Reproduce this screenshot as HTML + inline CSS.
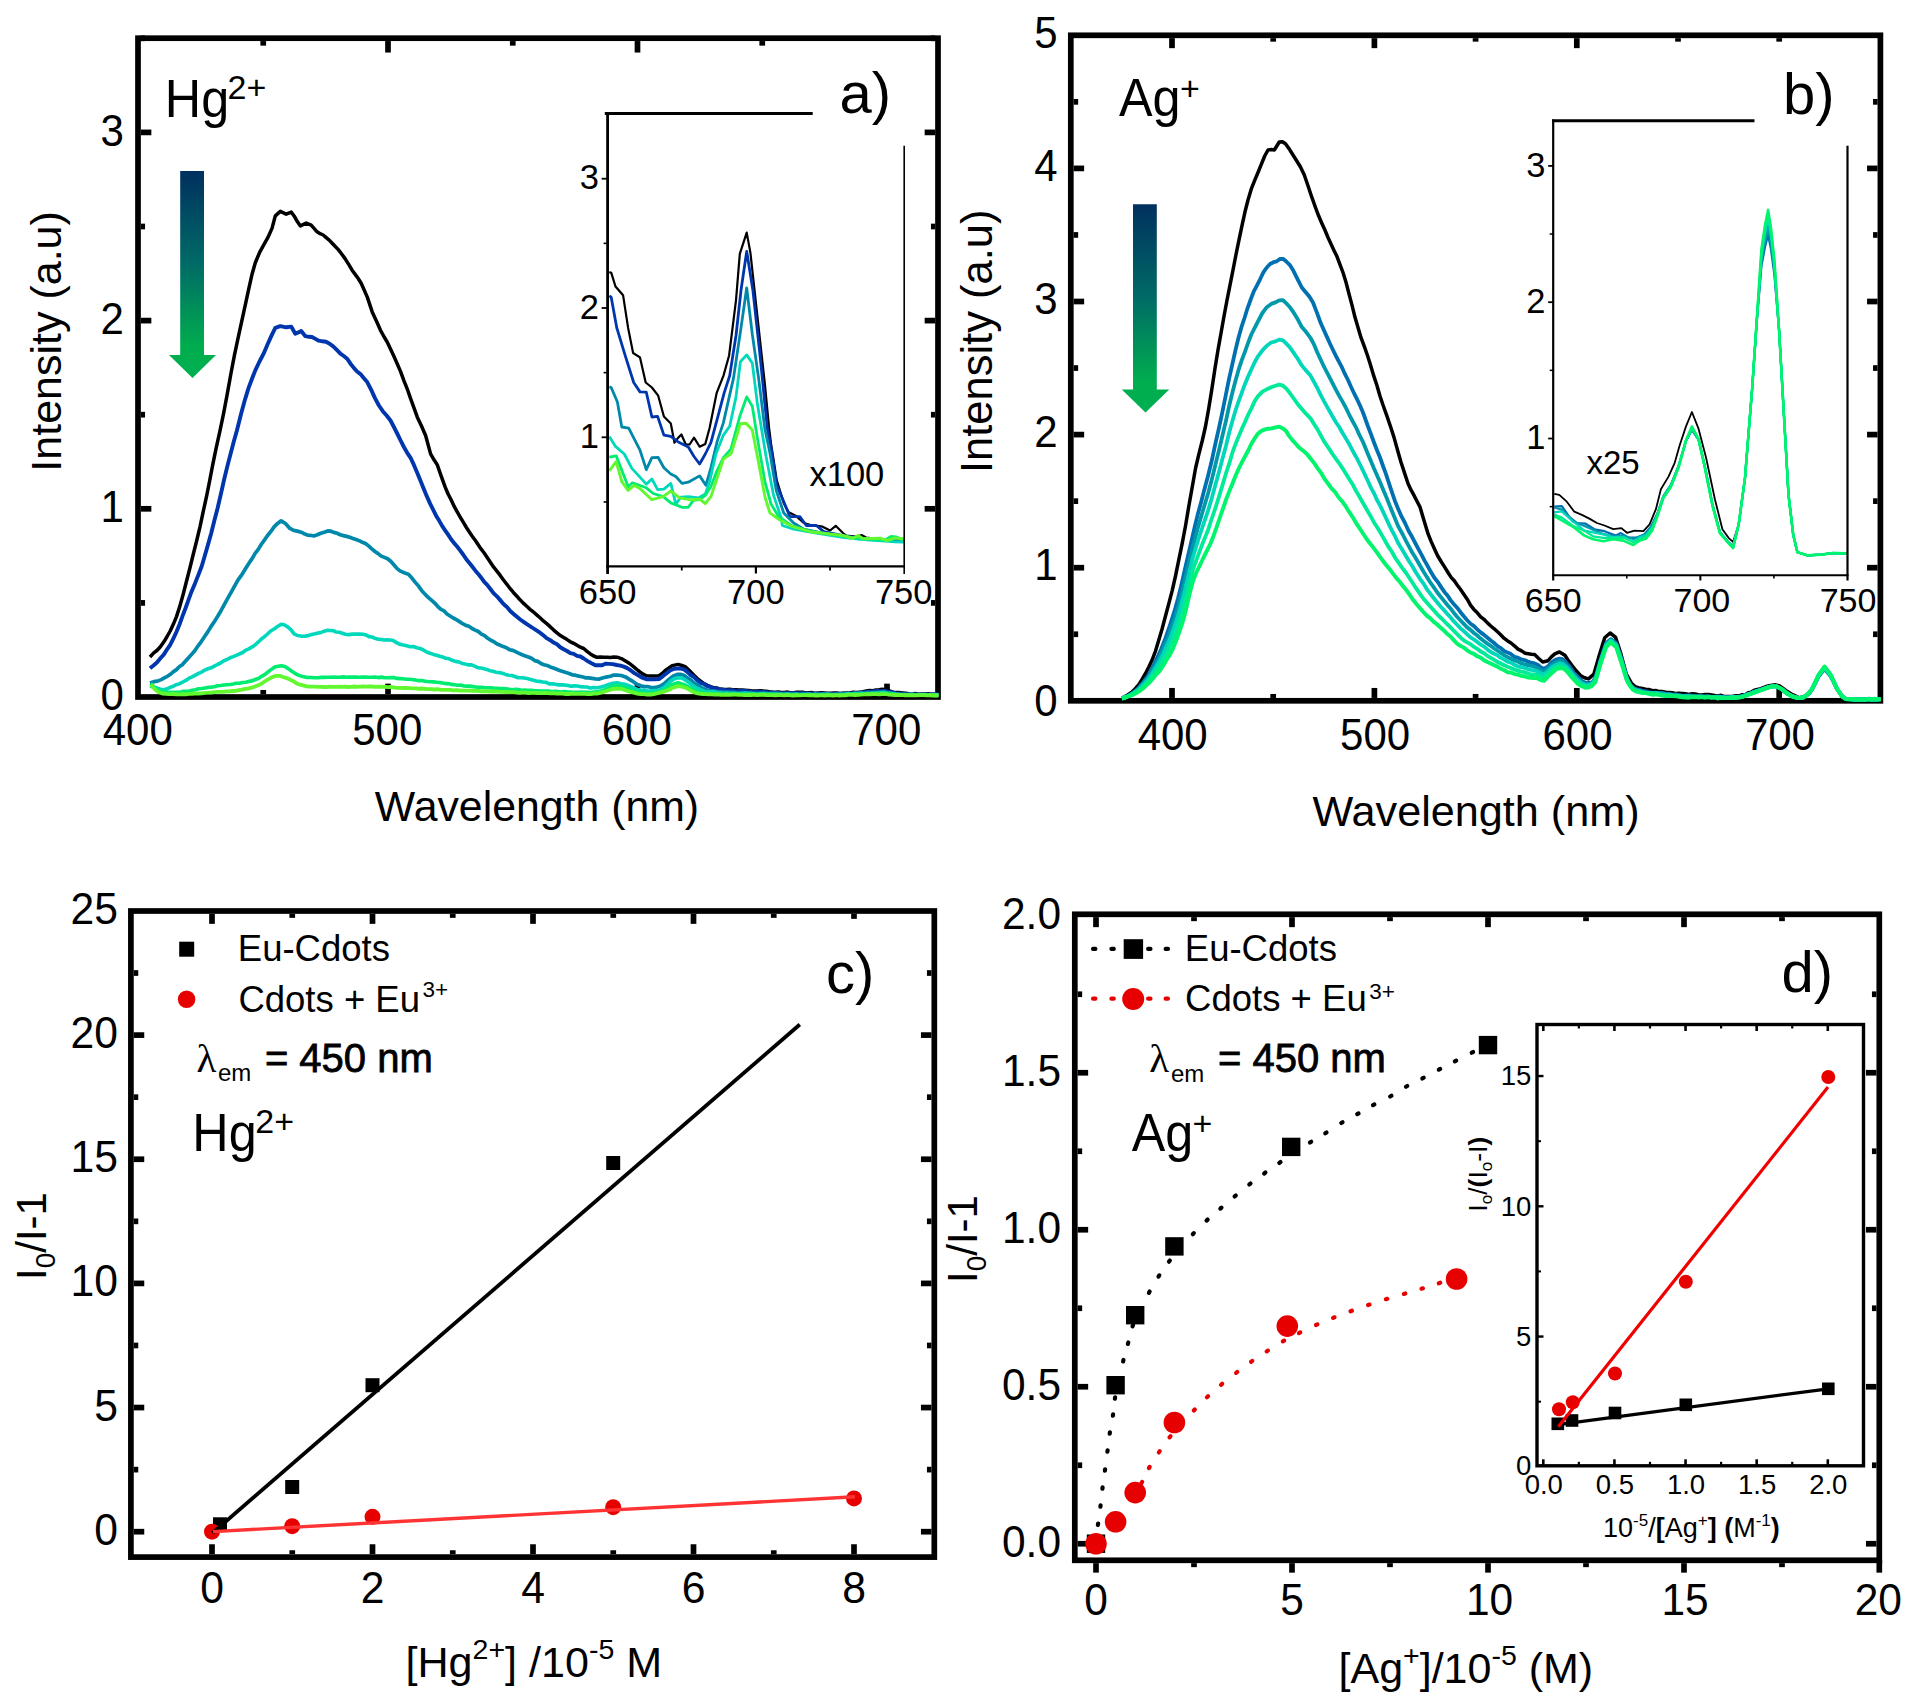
<!DOCTYPE html>
<html lang="en"><head><meta charset="utf-8"><title>Figure</title>
<style>html,body{margin:0;padding:0;background:#fff}svg{display:block}</style></head>
<body>
<svg width="1916" height="1706" viewBox="0 0 1916 1706" font-family='"Liberation Sans", sans-serif'>
<defs><linearGradient id="ag" x1="0" y1="0" x2="0" y2="1"><stop offset="0" stop-color="#00305f"/><stop offset="0.45" stop-color="#006b66"/><stop offset="0.85" stop-color="#00ad4e"/><stop offset="1" stop-color="#00b050"/></linearGradient></defs>
<rect width="1916" height="1706" fill="#fff"/>
<g id="panelA">
<line x1="388.00" y1="694.15" x2="388.00" y2="683.65" stroke="#000" stroke-width="5.7" />
<line x1="637.50" y1="694.15" x2="637.50" y2="683.65" stroke="#000" stroke-width="5.7" />
<line x1="887.00" y1="694.15" x2="887.00" y2="683.65" stroke="#000" stroke-width="5.7" />
<line x1="263.25" y1="694.15" x2="263.25" y2="689.95" stroke="#000" stroke-width="5.7" />
<line x1="512.75" y1="694.15" x2="512.75" y2="689.95" stroke="#000" stroke-width="5.7" />
<line x1="762.25" y1="694.15" x2="762.25" y2="689.95" stroke="#000" stroke-width="5.7" />
<line x1="388.00" y1="41.05" x2="388.00" y2="52.55" stroke="#000" stroke-width="5.7" />
<line x1="637.50" y1="41.05" x2="637.50" y2="52.55" stroke="#000" stroke-width="5.7" />
<line x1="263.25" y1="41.05" x2="263.25" y2="45.65" stroke="#000" stroke-width="5.7" />
<line x1="512.75" y1="41.05" x2="512.75" y2="45.65" stroke="#000" stroke-width="5.7" />
<line x1="762.25" y1="41.05" x2="762.25" y2="45.65" stroke="#000" stroke-width="5.7" />
<line x1="140.85" y1="508.80" x2="151.35" y2="508.80" stroke="#000" stroke-width="5.7" />
<line x1="140.85" y1="320.60" x2="151.35" y2="320.60" stroke="#000" stroke-width="5.7" />
<line x1="140.85" y1="132.40" x2="151.35" y2="132.40" stroke="#000" stroke-width="5.7" />
<line x1="140.85" y1="602.90" x2="145.05" y2="602.90" stroke="#000" stroke-width="5.7" />
<line x1="140.85" y1="414.70" x2="145.05" y2="414.70" stroke="#000" stroke-width="5.7" />
<line x1="140.85" y1="226.50" x2="145.05" y2="226.50" stroke="#000" stroke-width="5.7" />
<line x1="140.85" y1="38.30" x2="145.05" y2="38.30" stroke="#000" stroke-width="5.7" />
<line x1="935.15" y1="508.80" x2="924.65" y2="508.80" stroke="#000" stroke-width="5.7" />
<line x1="935.15" y1="320.60" x2="924.65" y2="320.60" stroke="#000" stroke-width="5.7" />
<line x1="935.15" y1="132.40" x2="924.65" y2="132.40" stroke="#000" stroke-width="5.7" />
<line x1="935.15" y1="602.90" x2="930.95" y2="602.90" stroke="#000" stroke-width="5.7" />
<line x1="935.15" y1="414.70" x2="930.95" y2="414.70" stroke="#000" stroke-width="5.7" />
<line x1="935.15" y1="226.50" x2="930.95" y2="226.50" stroke="#000" stroke-width="5.7" />
<line x1="935.15" y1="38.30" x2="930.95" y2="38.30" stroke="#000" stroke-width="5.7" />
<rect x="138.00" y="38.20" width="800.00" height="658.80" fill="none" stroke="#000" stroke-width="5.7"/>
<polyline points="150.0,657.0 153.5,653.1 156.9,650.5 160.4,646.7 163.9,641.8 167.1,636.5 170.2,631.0 173.3,624.3 176.5,616.6 179.8,606.4 183.2,594.3 186.5,581.3 189.9,568.0 193.2,554.5 196.6,541.0 200.0,526.8 203.3,511.2 206.7,495.6 209.7,480.6 212.7,464.9 216.3,447.4 219.9,431.2 223.5,413.8 227.1,394.8 230.8,374.3 234.4,355.4 238.0,338.4 241.6,321.8 245.2,305.3 248.6,289.6 251.9,274.8 255.3,262.7 259.5,252.7 263.6,245.1 267.8,237.7 272.0,228.4 275.3,215.9 280.3,211.4 286.2,214.2 291.2,212.1 294.3,216.2 297.3,221.6 300.4,225.9 306.2,223.1 311.2,225.1 317.1,231.8 320.1,233.7 323.2,235.0 326.2,237.6 329.2,240.1 332.2,243.3 335.3,246.5 338.3,249.6 341.3,253.5 344.9,258.4 348.5,264.2 352.1,270.2 355.2,274.4 358.2,278.5 361.3,283.5 367.2,296.9 372.2,311.9 376.4,321.1 380.5,330.3 383.9,336.5 387.2,342.0 390.5,348.9 393.9,356.2 397.2,363.7 400.5,371.4 403.9,380.6 407.2,388.8 410.6,398.6 413.9,407.7 417.3,417.2 421.5,426.0 425.6,435.5 430.6,453.9 434.0,459.8 437.3,464.9 441.2,476.1 445.1,486.9 448.1,494.0 451.1,499.8 454.1,506.2 457.1,511.7 460.1,517.0 463.1,521.9 466.1,527.0 469.2,531.8 472.2,536.2 475.2,540.3 478.2,544.8 481.2,549.2 484.2,553.0 487.2,557.5 490.2,562.0 493.5,566.9 496.9,571.1 500.2,575.4 503.5,580.0 506.9,584.3 510.2,588.7 513.6,592.7 516.9,596.3 520.3,600.1 523.6,603.4 527.0,606.5 530.3,609.6 533.7,612.2 537.0,615.1 540.3,618.0 543.7,621.2 547.0,623.9 550.4,626.9 553.7,630.1 557.0,632.9 560.4,635.6 563.7,637.6 567.1,639.6 570.4,641.8 573.7,643.3 577.0,645.2 580.4,647.2 583.7,648.5 587.0,651.3 590.4,653.9 593.7,656.0 597.1,657.3 600.4,656.9 603.8,657.2 607.1,657.2 610.5,657.4 613.8,657.0 617.1,657.2 621.3,658.6 625.5,661.0 629.6,663.5 633.8,666.9 638.0,670.5 642.2,673.6 646.4,675.7 650.5,676.1 654.7,675.9 658.9,675.7 662.2,673.5 665.6,670.2 668.9,668.0 672.2,665.6 678.1,664.4 681.9,665.5 685.6,666.9 689.8,671.1 693.9,675.2 697.3,678.6 700.6,681.2 704.0,683.6 707.3,685.4 710.7,686.6 714.0,687.8 717.0,688.1 720.0,688.9 723.2,689.5 726.3,689.4 729.5,689.2 732.7,689.7 735.8,689.8 739.0,690.0 742.0,690.0 745.0,690.2 748.1,690.5 751.1,690.8 754.1,690.9 757.1,691.0 760.2,690.7 763.2,691.1 766.2,691.2 769.2,691.7 772.3,692.1 775.3,692.2 778.3,692.0 781.4,692.4 784.4,692.5 787.5,692.1 790.6,692.8 793.7,692.7 796.7,692.2 799.8,692.2 802.9,692.3 805.9,693.1 809.0,692.7 812.1,692.6 815.1,693.2 818.2,693.0 821.3,692.8 824.4,692.9 827.4,693.3 830.5,693.3 833.8,693.0 837.0,693.1 840.3,693.5 843.5,693.2 846.8,692.9 850.1,693.0 853.3,692.3 856.6,692.6 859.9,692.2 863.1,691.8 866.4,691.0 869.6,690.5 872.9,690.8 876.1,690.0 879.2,689.7 882.2,689.3 885.3,689.8 888.8,690.7 892.2,692.0 895.7,692.6 899.0,692.6 902.2,692.9 905.5,693.2 908.8,693.7 912.1,694.0 915.4,693.6 918.7,694.2 922.0,694.2 925.3,694.1 928.6,693.8 931.9,694.6 935.2,694.4 938.5,694.2" fill="none" stroke="#000000" stroke-width="3.5" stroke-linejoin="round" stroke-linecap="butt"/>
<polyline points="150.0,668.3 153.5,665.5 156.9,662.5 160.4,658.2 163.9,654.4 167.1,649.3 170.2,644.8 173.3,638.7 176.5,631.7 179.5,624.5 182.5,616.1 185.6,608.0 188.6,599.6 191.6,591.4 195.0,583.4 198.3,575.1 201.7,566.2 204.8,555.8 208.0,544.6 211.2,533.2 214.3,520.8 217.7,507.7 221.0,493.5 224.3,478.8 227.7,464.9 230.8,453.1 233.8,441.6 236.9,430.5 241.1,413.7 245.2,398.8 248.6,387.9 251.9,379.0 255.3,370.4 259.5,361.5 263.6,353.7 267.5,344.6 271.4,335.9 275.3,327.8 280.3,326.1 286.2,327.3 291.2,326.6 295.3,333.7 301.2,331.1 305.4,336.2 308.7,336.8 312.0,337.0 315.4,338.9 318.7,340.7 322.3,341.3 326.0,341.8 329.6,343.7 333.2,346.4 336.8,349.9 340.4,353.7 343.8,356.0 347.1,358.7 350.5,363.7 353.8,367.9 357.1,371.5 360.5,374.1 363.9,378.2 367.2,382.1 371.1,389.6 375.0,398.1 378.9,405.5 382.8,411.2 386.6,415.5 390.5,420.5 393.9,427.0 397.2,433.5 400.6,440.5 403.9,447.0 407.2,452.8 410.6,457.9 413.9,464.9 417.1,472.5 420.4,480.5 423.6,488.4 426.9,496.4 430.1,503.6 433.1,509.6 436.1,515.7 439.1,520.6 442.1,525.9 445.1,530.3 448.1,534.6 451.1,539.2 454.1,543.1 457.1,546.5 460.1,550.4 463.1,554.5 466.1,558.9 469.2,562.7 472.2,566.5 475.2,570.4 478.2,573.9 481.2,577.7 484.2,581.8 487.2,584.9 490.2,588.8 493.5,593.1 496.9,596.3 500.2,600.1 503.5,604.0 506.9,606.9 510.2,611.0 513.6,614.0 516.9,616.8 520.2,619.5 523.6,621.9 526.9,624.2 530.3,626.3 533.6,628.5 536.9,630.7 540.3,632.9 543.6,635.6 547.0,638.4 550.3,640.2 553.6,642.6 557.0,644.3 560.3,647.3 563.7,649.3 567.0,651.0 570.3,653.1 573.7,653.8 577.0,655.8 580.4,656.5 583.7,658.5 587.6,661.1 591.5,663.3 595.4,665.2 598.8,665.1 602.1,665.3 605.4,663.8 608.8,663.9 612.7,664.1 616.6,665.0 620.5,665.6 623.8,666.6 627.2,668.1 630.5,670.2 634.4,673.1 638.3,675.4 642.2,677.7 646.4,679.2 650.5,679.4 654.7,679.3 658.9,679.1 663.0,676.1 667.2,672.7 670.5,670.2 673.9,668.9 677.2,668.5 680.6,668.6 684.0,669.4 687.3,671.9 690.6,675.0 694.0,677.1 697.3,680.3 700.6,682.8 704.0,684.0 707.3,686.1 710.5,687.0 713.6,688.5 716.8,688.5 720.0,689.4 723.2,689.5 726.3,690.4 729.5,690.3 732.7,690.2 735.8,691.3 739.0,691.0 742.0,690.8 745.0,690.9 748.1,691.3 751.1,691.8 754.1,692.1 757.1,691.6 760.2,691.9 763.2,691.8 766.2,692.3 769.2,692.7 772.3,692.8 775.3,693.1 778.3,692.8 781.4,693.2 784.4,693.4 787.5,693.3 790.6,693.2 793.7,693.0 796.7,693.5 799.8,693.3 802.9,693.1 805.9,693.5 809.0,694.0 812.1,693.4 815.1,693.9 818.2,693.7 821.3,693.9 824.4,693.6 827.4,694.4 830.5,694.0 833.8,693.8 837.0,694.1 840.3,693.9 843.5,693.5 846.8,693.9 850.1,693.4 853.3,693.1 856.6,693.4 859.9,692.6 863.1,692.4 866.4,691.9 869.6,691.9 872.9,691.4 876.1,691.0 879.2,691.2 882.2,691.1 885.3,690.8 888.8,692.0 892.2,692.3 895.7,693.4 899.0,693.7 902.2,693.8 905.5,694.3 908.8,694.3 912.1,694.5 915.4,694.7 918.7,694.7 922.0,694.3 925.3,694.4 928.6,694.6 931.9,694.1 935.2,694.1 938.5,694.6" fill="none" stroke="#0036ad" stroke-width="3.9" stroke-linejoin="round" stroke-linecap="butt"/>
<polyline points="150.0,682.9 153.8,681.7 157.5,681.1 161.3,679.6 164.3,677.9 167.4,676.3 170.4,674.3 173.5,671.6 176.5,669.6 179.5,666.5 182.5,664.6 185.6,661.1 188.6,657.8 191.6,654.4 194.8,650.7 198.1,645.8 201.3,641.6 204.6,636.6 207.8,631.9 211.1,626.4 214.3,621.7 217.7,616.3 221.0,610.7 224.4,604.3 227.7,598.4 231.1,592.3 234.4,586.4 237.9,580.2 241.5,575.2 245.0,569.6 248.6,563.8 252.1,558.6 255.1,553.4 258.1,549.6 261.2,544.5 264.2,540.3 267.2,536.0 270.7,531.7 274.1,526.9 277.6,523.4 281.1,520.8 285.5,523.5 289.9,528.4 293.7,530.4 297.4,531.1 301.2,532.2 304.4,533.8 307.5,535.1 310.6,535.3 313.8,536.0 317.3,534.8 320.8,533.2 324.2,532.2 327.7,530.9 330.9,531.2 334.0,532.4 337.1,533.3 340.3,534.7 343.4,535.6 346.6,536.4 349.8,537.3 352.9,538.5 356.0,539.6 359.2,540.7 362.4,542.3 365.5,543.5 368.6,545.9 371.8,548.8 375.0,551.5 378.1,553.6 381.2,556.1 384.4,557.4 387.6,558.7 390.7,561.2 393.8,564.7 396.9,568.4 400.0,570.9 404.2,572.8 408.4,574.2 411.7,577.8 415.1,582.1 418.4,585.9 421.8,590.8 425.1,594.2 428.2,597.4 431.4,600.1 434.5,602.8 437.6,606.3 440.7,609.2 443.9,610.8 447.0,614.0 450.1,616.0 453.2,618.0 456.4,619.7 459.5,621.6 462.6,623.7 465.8,625.4 468.9,626.2 472.1,628.5 475.2,630.1 478.3,631.5 481.4,634.1 484.6,635.7 487.7,638.2 490.8,640.3 493.9,641.7 497.1,644.0 500.2,645.2 503.3,646.6 506.5,647.8 509.6,649.7 512.8,650.4 515.9,651.8 519.0,653.3 522.2,654.8 525.3,656.0 528.4,657.0 531.5,658.3 534.7,660.6 537.8,661.4 540.9,663.5 544.0,664.8 547.2,665.5 550.3,666.9 553.4,668.0 556.6,669.3 559.7,670.5 562.8,671.5 566.0,672.5 569.1,673.5 572.3,674.8 575.4,675.2 578.7,676.1 582.1,676.8 585.4,677.8 588.7,677.9 592.1,678.4 595.4,678.9 599.3,679.1 603.2,677.8 607.1,676.9 610.4,676.3 613.8,675.0 617.1,675.2 621.3,675.5 625.5,676.9 629.4,679.4 633.3,681.7 637.2,684.4 640.5,685.7 643.9,686.6 647.2,686.5 650.5,687.3 653.8,687.5 657.2,687.1 660.5,686.1 664.7,683.2 668.9,679.4 673.0,676.3 677.2,674.4 680.5,674.4 683.9,675.2 687.2,677.7 690.6,679.8 693.9,682.8 697.8,684.9 701.7,687.8 705.6,689.4 709.2,690.9 712.8,690.9 716.4,691.6 720.0,691.9 723.1,692.2 726.2,692.1 729.2,692.3 732.3,692.4 735.4,692.6 738.5,692.9 741.5,692.7 744.6,692.8 747.7,693.3 750.8,692.6 753.8,693.2 756.9,693.5 760.0,693.3 763.1,693.2 766.1,693.2 769.2,693.8 772.3,693.3 775.3,693.4 778.4,693.7 781.5,694.0 784.5,693.5 787.6,693.8 790.7,693.9 793.7,694.4 796.8,694.1 799.8,694.6 802.9,693.9 806.0,694.1 809.0,694.5 812.1,694.7 815.2,694.3 818.2,694.1 821.3,694.0 824.4,694.5 827.4,694.1 830.5,694.4 833.5,694.7 836.6,694.6 839.6,693.9 842.7,693.9 845.7,694.3 848.7,694.0 851.8,694.0 854.8,693.4 857.9,693.0 860.9,693.0 863.9,693.4 867.0,692.7 870.0,692.6 873.1,692.5 876.1,692.5 879.2,692.2 882.2,692.1 885.3,692.2 888.8,693.2 892.2,693.2 895.7,694.0 898.8,693.7 901.8,694.7 904.9,694.8 907.9,695.0 911.0,694.5 914.0,695.1 917.1,695.1 920.2,694.4 923.2,695.0 926.3,695.1 929.3,695.0 932.4,694.9 935.4,694.7 938.5,695.0" fill="none" stroke="#0088aa" stroke-width="3.7" stroke-linejoin="round" stroke-linecap="butt"/>
<polyline points="150.0,686.0 153.5,686.9 156.9,688.0 160.4,689.3 163.9,689.7 167.1,688.8 170.2,687.4 173.3,686.2 176.5,684.7 179.7,683.6 182.8,682.0 185.9,680.4 189.1,678.2 192.2,676.9 195.4,675.1 198.5,673.4 201.7,672.1 204.8,670.1 208.0,668.7 211.2,667.8 214.3,666.1 217.4,664.5 220.6,663.0 223.8,660.8 226.9,659.5 230.1,657.8 233.2,656.6 236.3,655.3 239.5,653.9 242.7,652.5 245.8,650.1 248.9,648.9 252.1,646.9 255.1,644.9 258.1,642.2 261.2,639.2 264.2,636.8 267.2,634.3 270.7,631.0 274.1,629.0 277.6,626.4 281.1,624.2 284.2,624.7 287.4,626.7 290.8,629.6 294.1,633.8 297.5,635.5 301.0,636.1 304.5,636.2 308.1,635.6 311.6,634.5 315.1,633.8 318.1,633.1 321.1,632.4 324.2,631.3 327.2,630.4 330.2,630.5 333.2,630.7 336.2,632.0 339.3,632.3 342.3,633.2 345.3,634.3 348.8,634.6 352.4,634.1 355.9,634.1 359.5,634.0 363.0,634.3 366.0,634.9 369.0,636.6 372.1,637.0 375.1,638.4 378.1,639.3 381.1,639.4 384.1,640.0 387.2,639.7 390.2,640.0 393.2,640.6 396.6,642.6 400.0,644.3 403.3,645.0 406.7,645.8 410.0,646.7 413.4,646.5 416.7,647.7 420.0,648.4 423.4,650.0 426.7,652.0 430.1,653.3 433.4,654.4 436.5,655.2 439.7,656.3 442.8,657.1 445.9,658.3 449.1,658.8 452.2,660.3 455.4,661.4 458.5,661.9 461.6,663.2 464.8,663.9 467.9,664.9 471.0,664.8 474.1,665.9 477.2,667.4 480.4,668.0 483.5,668.6 486.6,669.4 489.8,670.7 492.9,671.3 496.1,672.3 499.2,672.6 502.3,673.3 505.5,674.4 508.6,675.2 511.7,675.5 514.9,676.5 518.0,677.7 521.1,677.7 524.2,678.0 527.4,678.6 530.5,679.4 533.6,680.3 536.7,681.2 539.9,681.4 543.0,682.0 546.2,682.4 549.3,683.9 552.4,683.9 555.6,684.2 558.7,684.9 561.8,684.8 565.0,685.1 568.1,685.5 571.2,686.3 574.3,685.9 577.5,686.0 580.6,686.7 583.7,686.9 587.1,687.0 590.4,688.1 593.8,687.5 597.1,687.8 601.0,687.0 604.9,685.9 608.8,684.4 613.0,683.2 617.1,682.8 621.3,683.7 625.5,684.4 629.4,686.0 633.3,687.7 637.2,689.4 640.5,690.1 643.9,690.3 647.2,691.0 650.5,691.1 654.4,690.6 658.3,690.5 662.2,688.6 666.4,685.4 670.6,681.1 674.4,678.8 678.1,677.7 681.9,677.9 685.6,680.3 688.9,682.5 692.3,685.3 695.6,687.8 699.0,689.0 702.3,690.3 705.6,691.8 709.0,691.9 712.0,691.8 715.0,691.9 718.0,693.0 721.0,692.8 724.0,693.4 727.0,693.0 730.0,693.6 733.0,693.4 736.0,693.6 739.0,693.7 742.0,693.5 745.0,693.1 748.0,693.3 751.0,694.0 754.0,694.1 757.0,694.2 760.0,693.8 763.1,693.7 766.1,694.1 769.2,694.3 772.3,694.2 775.3,694.4 778.4,694.2 781.5,694.4 784.5,694.5 787.6,694.1 790.7,694.8 793.7,694.9 796.8,694.1 799.8,695.0 802.9,695.0 806.0,694.7 809.0,694.1 812.1,695.0 815.2,694.3 818.2,695.1 821.3,694.8 824.4,694.2 827.4,694.3 830.5,694.6 833.5,694.7 836.6,694.6 839.6,694.7 842.7,694.8 845.7,694.0 848.7,693.6 851.8,694.4 854.8,693.4 857.9,694.1 860.9,693.2 863.9,693.8 867.0,693.6 870.0,693.6 873.1,693.2 876.1,693.0 879.2,693.2 882.2,692.4 885.3,692.8 888.8,693.4 892.2,693.7 895.7,694.3 898.8,694.8 901.8,694.8 904.9,694.6 907.9,694.7 911.0,694.3 914.0,694.4 917.1,695.0 920.2,694.9 923.2,695.3 926.3,695.1 929.3,694.7 932.4,695.0 935.4,695.4 938.5,695.2" fill="none" stroke="#00d8bc" stroke-width="3.6" stroke-linejoin="round" stroke-linecap="butt"/>
<polyline points="150.7,683.4 156.3,689.7 159.7,690.8 163.0,691.6 166.4,692.1 169.8,692.4 173.1,692.4 176.5,692.2 179.7,692.3 182.8,691.4 185.9,691.2 189.1,691.0 192.2,690.3 195.4,689.8 198.5,688.8 201.7,688.5 204.8,688.0 208.0,687.4 211.2,687.1 214.3,686.7 217.4,685.8 220.6,685.5 223.8,685.0 226.9,684.7 230.1,684.5 233.2,684.0 236.3,683.3 239.5,683.3 242.7,682.5 245.8,682.3 248.9,681.4 252.1,680.9 255.2,679.5 258.4,678.5 261.6,676.3 264.7,674.6 268.1,671.8 271.4,669.4 274.8,667.0 278.1,666.3 281.5,665.7 284.8,666.5 288.2,668.6 291.5,671.0 294.9,673.3 298.3,675.1 301.6,676.2 305.0,677.1 308.2,677.5 311.4,677.5 314.6,677.8 317.8,677.8 321.0,677.4 324.2,677.4 327.4,677.3 330.5,677.2 333.7,677.1 336.9,677.2 340.1,677.3 343.3,676.9 346.5,677.2 349.7,677.0 352.9,677.1 356.0,677.0 359.2,677.3 362.3,677.1 365.5,677.1 368.6,677.2 371.8,677.3 374.9,677.0 378.1,677.6 381.2,677.1 384.4,677.6 387.5,677.7 390.7,677.6 393.8,677.5 396.9,678.4 400.0,678.6 403.0,678.8 406.1,679.2 409.1,679.2 412.1,679.5 415.2,679.9 418.2,680.6 421.3,680.5 424.3,681.1 427.3,681.5 430.4,681.8 433.4,681.9 436.4,682.2 439.5,682.5 442.5,683.0 445.5,683.6 448.6,683.6 451.6,684.4 454.7,684.8 457.7,685.3 460.7,685.1 463.8,686.0 466.8,686.1 469.8,686.1 472.9,686.6 475.9,687.0 478.9,687.4 482.0,687.3 485.0,687.8 488.1,687.8 491.1,687.9 494.1,688.1 497.2,688.2 500.2,688.6 503.2,688.6 506.3,688.8 509.3,689.3 512.3,689.7 515.4,689.4 518.4,689.5 521.5,690.2 524.5,690.1 527.5,690.2 530.6,690.3 533.6,690.6 536.6,690.8 539.7,691.1 542.7,691.0 545.7,691.1 548.8,691.0 551.8,691.7 554.9,691.3 557.9,691.6 560.9,692.0 564.0,691.6 567.0,691.9 570.0,692.1 573.0,692.3 576.0,692.3 579.0,692.4 582.0,692.1 585.1,692.3 588.1,692.2 591.1,692.5 594.1,692.0 597.1,691.9 601.0,690.9 604.9,689.6 608.8,687.8 613.0,686.6 617.1,685.6 621.3,686.7 625.5,687.8 629.4,689.2 633.3,690.7 637.2,691.9 640.5,692.7 643.9,693.1 647.2,693.2 650.5,693.3 653.9,692.9 657.2,692.2 660.5,691.4 663.9,690.3 668.0,687.8 672.2,684.4 678.1,682.8 681.9,683.9 685.6,685.3 688.9,687.3 692.3,689.4 695.6,691.1 699.0,692.0 702.3,692.6 705.6,693.2 709.0,693.6 712.0,693.9 715.0,694.1 718.0,693.9 721.0,694.2 724.0,694.2 727.0,694.2 730.0,694.3 733.0,694.3 736.0,694.1 739.0,694.3 742.0,694.1 745.0,694.2 748.0,694.4 751.0,694.4 754.0,694.1 757.0,694.5 760.0,694.3 763.1,694.4 766.1,694.4 769.2,694.1 772.3,694.5 775.3,694.3 778.4,694.6 781.5,694.5 784.5,694.8 787.6,694.7 790.7,694.9 793.7,694.6 796.8,694.9 799.8,694.9 802.9,695.0 806.0,694.8 809.0,695.1 812.1,695.1 815.2,695.0 818.2,695.2 821.3,695.2 824.4,694.9 827.4,694.9 830.5,694.9 833.5,694.7 836.6,695.0 839.6,695.0 842.7,694.7 845.7,694.7 848.7,694.7 851.8,694.6 854.8,694.1 857.9,694.4 860.9,694.2 863.9,694.1 867.0,693.8 870.0,693.9 873.1,693.9 876.1,693.6 879.2,693.6 882.2,693.5 885.3,693.4 888.8,693.5 892.2,694.1 895.7,694.6 898.8,694.7 901.8,694.9 904.9,694.7 907.9,695.0 911.0,695.1 914.0,694.7 917.1,695.0 920.2,694.9 923.2,694.9 926.3,694.9 929.3,695.1 932.4,695.0 935.4,695.1 938.5,695.3" fill="none" stroke="#00ec70" stroke-width="3.6" stroke-linejoin="round" stroke-linecap="butt"/>
<polyline points="150.7,684.7 154.8,689.2 158.8,692.2 162.3,693.5 165.9,693.9 169.4,694.1 173.0,694.0 176.5,694.3 179.7,694.4 182.8,694.2 185.9,694.3 189.1,693.9 192.2,693.9 195.4,693.4 198.6,693.5 201.7,693.3 204.9,692.8 208.0,692.7 211.2,692.5 214.3,692.2 217.4,691.8 220.5,691.8 223.5,691.8 226.6,691.3 229.7,691.3 232.8,691.0 235.8,690.8 238.9,690.1 242.0,689.7 245.5,688.8 249.0,688.4 252.6,687.4 256.1,686.0 259.6,684.7 262.8,682.8 265.9,680.7 269.1,678.9 272.2,677.1 276.0,675.8 279.8,675.9 283.2,677.0 286.5,678.1 289.9,679.6 293.3,681.2 296.6,683.4 300.0,684.7 303.0,685.4 306.0,686.2 309.1,686.6 312.1,686.6 315.1,686.7 318.1,686.9 321.1,686.9 324.1,687.0 327.1,687.2 330.1,686.6 333.1,686.8 336.1,686.9 339.1,686.7 342.1,686.9 345.1,686.6 348.1,687.0 351.1,686.8 354.1,686.5 357.1,686.8 360.1,686.6 363.1,686.5 366.1,686.6 369.1,686.4 372.1,686.5 375.1,686.9 378.1,686.7 381.2,686.9 384.4,686.6 387.5,687.2 390.6,687.0 393.7,687.4 396.9,687.9 400.0,687.8 403.1,688.0 406.3,688.0 409.4,688.1 412.5,688.3 415.7,688.3 418.8,688.9 421.9,688.5 425.1,688.8 428.2,689.1 431.3,689.1 434.4,689.5 437.6,689.2 440.7,689.8 443.8,689.9 447.0,689.9 450.1,689.9 453.2,690.3 456.4,690.1 459.5,690.5 462.6,690.6 465.8,690.6 468.9,690.7 472.0,690.9 475.1,690.9 478.3,690.8 481.4,691.3 484.5,691.2 487.7,691.4 490.8,691.7 493.9,691.5 497.1,691.5 500.2,691.9 503.3,691.8 506.5,692.2 509.6,692.1 512.7,692.2 515.9,692.4 519.0,692.8 522.1,692.5 525.2,692.6 528.4,693.0 531.5,692.9 534.6,692.8 537.8,693.0 540.9,693.1 544.0,693.0 547.2,693.2 550.3,693.3 553.4,693.2 556.5,693.6 559.7,693.4 562.8,693.7 565.9,694.0 569.0,694.0 572.1,693.7 575.3,693.9 578.4,693.8 581.5,693.9 584.6,693.9 587.7,694.1 590.9,694.1 594.0,693.6 597.1,693.6 601.0,692.6 604.9,691.5 608.8,690.3 613.0,688.9 617.1,688.6 621.3,688.9 625.5,690.3 629.4,691.6 633.3,692.5 637.2,693.6 640.5,694.1 643.9,694.2 647.2,694.6 650.6,694.5 653.9,694.1 657.8,693.2 661.7,692.2 665.6,691.1 668.9,689.8 672.2,687.8 678.1,686.1 681.9,686.7 685.6,687.8 688.9,689.4 692.3,691.5 695.6,692.8 699.0,693.7 702.3,694.0 705.6,694.2 709.0,694.4 712.0,694.3 715.0,694.5 718.0,694.4 721.0,694.8 724.0,694.8 727.0,694.5 730.0,694.9 733.0,694.6 736.0,694.6 739.0,694.9 742.0,694.8 745.0,695.1 748.0,694.9 751.0,695.0 754.0,694.6 757.0,695.1 760.0,694.9 763.1,694.7 766.1,695.0 769.2,695.2 772.3,695.2 775.3,695.3 778.4,695.0 781.5,695.2 784.5,695.3 787.6,694.9 790.7,695.4 793.7,695.5 796.8,695.2 799.8,695.4 802.9,695.2 806.0,695.2 809.0,695.4 812.1,695.1 815.2,695.5 818.2,695.6 821.3,695.2 824.4,695.6 827.4,695.1 830.5,695.3 833.5,695.5 836.6,695.1 839.6,695.5 842.7,695.1 845.7,695.3 848.7,694.7 851.8,694.6 854.8,695.0 857.9,694.8 860.9,694.6 863.9,694.3 867.0,694.2 870.0,694.3 873.1,694.0 876.1,694.2 879.2,694.4 882.2,694.1 885.3,694.0 888.8,694.6 892.2,694.8 895.7,695.0 898.8,695.0 901.8,694.9 904.9,695.3 907.9,695.0 911.0,695.3 914.0,695.3 917.1,695.3 920.2,695.1 923.2,695.1 926.3,695.4 929.3,695.1 932.4,695.5 935.4,695.3 938.5,695.5" fill="none" stroke="#62f72e" stroke-width="3.8" stroke-linejoin="round" stroke-linecap="butt"/>
<text transform="translate(124.00 710.10) scale(0.955 1)" font-size="44" text-anchor="end" font-weight="normal" fill="#000" >0</text>
<text transform="translate(124.00 521.90) scale(0.955 1)" font-size="44" text-anchor="end" font-weight="normal" fill="#000" >1</text>
<text transform="translate(124.00 333.70) scale(0.955 1)" font-size="44" text-anchor="end" font-weight="normal" fill="#000" >2</text>
<text transform="translate(124.00 145.50) scale(0.955 1)" font-size="44" text-anchor="end" font-weight="normal" fill="#000" >3</text>
<text transform="translate(137.70 745.30) scale(0.955 1)" font-size="44" text-anchor="middle" font-weight="normal" fill="#000" >400</text>
<text transform="translate(387.20 745.30) scale(0.955 1)" font-size="44" text-anchor="middle" font-weight="normal" fill="#000" >500</text>
<text transform="translate(636.70 745.30) scale(0.955 1)" font-size="44" text-anchor="middle" font-weight="normal" fill="#000" >600</text>
<text transform="translate(886.20 745.30) scale(0.955 1)" font-size="44" text-anchor="middle" font-weight="normal" fill="#000" >700</text>
<text x="537.00" y="820.80" font-size="42.8" text-anchor="middle" font-weight="normal" fill="#000" >Wavelength (nm)</text>
<text x="61.20" y="341.40" font-size="43" text-anchor="middle" font-weight="normal" fill="#000" transform="rotate(-90 61.20 341.40)" >Intensity (a.u)</text>
<text transform="translate(164.80 116.90) scale(0.95 1)" font-size="53">Hg</text>
<text x="227.60" y="98.50" font-size="34" text-anchor="start" font-weight="normal" fill="#000" >2+</text>
<text x="839.50" y="113.40" font-size="58" text-anchor="start" font-weight="normal" fill="#000" >a)</text>
<path d="M180.2 171 H204 V355 H216 L192.5 378 L169 355 H180.2 Z" fill="url(#ag)"/>
<polyline points="609.3,272.1 611.2,272.7 615.5,286.5 623.1,295.3 628.1,327.9 633.1,353.0 640.0,357.4 645.7,382.5 651.9,387.5 658.2,395.7 663.9,416.5 670.8,423.5 674.5,442.7 678.3,437.6 681.4,434.5 685.8,444.5 689.6,444.5 694.0,437.6 699.6,446.7 705.3,443.9 709.6,428.0 716.6,393.2 723.5,375.6 729.1,355.5 736.0,300.3 739.8,253.9 746.7,232.6 750.4,252.6 757.3,315.4 764.9,384.4 769.2,429.0 771.1,443.9 776.8,480.3 783.7,502.9 788.7,512.3 796.2,516.1 803.8,523.0 810.0,524.8 822.6,526.7 830.1,530.5 835.7,525.8 843.0,533.0 846.0,535.5 856.0,536.5 862.0,535.2 866.0,537.5 885.0,539.6 895.0,540.4 903.6,540.6" fill="none" stroke="#000000" stroke-width="2.2" stroke-linejoin="round" stroke-linecap="butt"/>
<polyline points="609.3,295.9 611.2,297.2 616.8,327.9 625.6,356.8 633.7,382.5 640.0,391.9 646.3,392.2 651.9,417.0 657.6,416.4 663.9,435.1 670.8,436.4 678.3,442.0 688.3,447.1 694.0,456.5 699.6,464.0 705.3,454.0 710.9,442.7 716.6,421.3 724.1,393.2 729.7,375.6 736.0,335.5 741.0,290.3 746.7,251.4 752.9,290.3 759.8,353.0 767.4,429.0 771.1,447.7 776.8,485.3 783.7,501.6 789.9,516.7 800.0,516.7 806.3,525.5 816.3,525.5 823.8,531.7 843.0,535.5 856.0,537.8 870.0,538.9 885.0,539.9 895.0,540.7 903.6,540.9" fill="none" stroke="#0036ad" stroke-width="2.8" stroke-linejoin="round" stroke-linecap="butt"/>
<polyline points="609.3,386.9 611.2,387.5 617.4,402.0 621.8,427.0 628.7,428.2 640.0,450.2 646.3,469.6 651.9,457.7 658.2,457.5 663.9,467.8 670.8,474.0 675.8,476.5 682.0,483.4 688.3,482.2 699.6,475.9 705.9,485.3 710.9,467.8 717.2,441.4 723.4,422.6 733.5,378.1 741.0,327.9 746.7,287.8 752.3,334.2 758.6,378.1 764.9,429.0 769.9,452.7 776.2,490.3 783.7,512.9 793.7,523.0 803.8,529.2 822.6,533.0 843.0,536.8 856.0,538.3 870.0,539.4 885.0,540.4 895.0,541.2 903.6,541.4" fill="none" stroke="#0088aa" stroke-width="2.8" stroke-linejoin="round" stroke-linecap="butt"/>
<polyline points="609.3,436.4 615.5,446.4 624.3,454.0 631.9,468.4 646.3,484.1 651.9,479.0 657.6,489.7 663.9,489.1 670.8,483.4 675.8,504.1 680.8,497.2 688.3,496.6 698.4,497.9 705.3,494.1 709.6,481.6 715.9,454.0 723.4,435.1 729.7,426.3 736.0,396.9 740.4,361.8 746.7,354.9 752.3,363.1 757.3,403.2 766.1,456.5 773.6,495.4 781.2,517.9 782.4,525.5 793.7,529.2 816.3,533.0 843.0,537.4 856.0,538.9 870.0,540.0 885.0,541.0 895.0,541.8 903.6,542.0" fill="none" stroke="#00d8bc" stroke-width="2.8" stroke-linejoin="round" stroke-linecap="butt"/>
<polyline points="609.3,457.1 616.2,455.8 621.8,470.3 628.1,486.6 632.5,482.8 639.4,485.3 646.3,487.8 653.2,493.5 663.2,496.6 670.8,502.9 682.0,507.3 688.3,507.3 693.3,500.4 699.6,499.7 705.3,495.4 710.9,486.6 717.2,470.3 723.4,457.7 731.0,448.9 739.8,416.3 746.7,396.9 752.3,406.3 757.3,437.6 764.9,481.6 771.1,504.1 778.7,516.7 791.2,525.5 810.0,531.1 843.0,536.1 856.0,537.8 870.0,539.0 885.0,540.0 891.0,536.5 896.0,536.8 903.6,540.2" fill="none" stroke="#00ec70" stroke-width="2.8" stroke-linejoin="round" stroke-linecap="butt"/>
<polyline points="609.3,470.9 616.2,461.5 621.8,481.6 628.1,490.3 634.4,485.3 640.6,489.1 651.9,499.7 663.2,496.6 670.8,491.0 679.5,497.9 690.8,499.7 699.6,499.1 705.3,503.5 710.9,496.6 717.2,477.8 723.4,459.0 731.0,453.9 740.4,423.8 746.0,423.2 752.3,430.1 758.6,462.7 764.9,496.6 769.9,512.9 778.7,519.2 791.2,526.1 810.0,531.7 843.0,535.5 853.0,538.5 858.0,535.5 863.0,538.8 880.0,538.2 887.0,540.5 895.0,538.0 903.6,538.8" fill="none" stroke="#62f72e" stroke-width="2.9" stroke-linejoin="round" stroke-linecap="butt"/>
<line x1="604.80" y1="113.40" x2="812.70" y2="113.40" stroke="#000" stroke-width="3" />
<line x1="607.60" y1="112.00" x2="607.60" y2="574.00" stroke="#000" stroke-width="2.8" />
<line x1="606.20" y1="566.40" x2="905.00" y2="566.40" stroke="#000" stroke-width="2.2" />
<line x1="904.20" y1="145.70" x2="904.20" y2="574.00" stroke="#000" stroke-width="1.6" />
<line x1="755.90" y1="566.00" x2="755.90" y2="573.50" stroke="#000" stroke-width="2.2" />
<line x1="681.75" y1="566.00" x2="681.75" y2="570.50" stroke="#000" stroke-width="1.8" />
<line x1="830.05" y1="566.00" x2="830.05" y2="570.50" stroke="#000" stroke-width="1.8" />
<line x1="601.60" y1="437.30" x2="607.60" y2="437.30" stroke="#000" stroke-width="1.8" />
<line x1="601.60" y1="308.00" x2="607.60" y2="308.00" stroke="#000" stroke-width="1.8" />
<line x1="601.60" y1="178.70" x2="607.60" y2="178.70" stroke="#000" stroke-width="1.8" />
<line x1="603.60" y1="501.95" x2="607.60" y2="501.95" stroke="#000" stroke-width="1.6" />
<line x1="603.60" y1="372.65" x2="607.60" y2="372.65" stroke="#000" stroke-width="1.6" />
<line x1="603.60" y1="243.35" x2="607.60" y2="243.35" stroke="#000" stroke-width="1.6" />
<text x="599.00" y="447.90" font-size="34.5" text-anchor="end" font-weight="normal" fill="#000" >1</text>
<text x="599.00" y="318.60" font-size="34.5" text-anchor="end" font-weight="normal" fill="#000" >2</text>
<text x="599.00" y="189.30" font-size="34.5" text-anchor="end" font-weight="normal" fill="#000" >3</text>
<text x="607.60" y="604.00" font-size="34.5" text-anchor="middle" font-weight="normal" fill="#000" >650</text>
<text x="755.90" y="604.00" font-size="34.5" text-anchor="middle" font-weight="normal" fill="#000" >700</text>
<text x="903.70" y="604.00" font-size="34.5" text-anchor="middle" font-weight="normal" fill="#000" >750</text>
<text x="809.50" y="486.30" font-size="34.5" text-anchor="start" font-weight="normal" fill="#000" >x100</text>
</g>
<g id="panelB">
<line x1="1172.00" y1="697.95" x2="1172.00" y2="687.95" stroke="#000" stroke-width="5.7" />
<line x1="1374.40" y1="697.95" x2="1374.40" y2="687.95" stroke="#000" stroke-width="5.7" />
<line x1="1576.80" y1="697.95" x2="1576.80" y2="687.95" stroke="#000" stroke-width="5.7" />
<line x1="1779.20" y1="697.95" x2="1779.20" y2="687.95" stroke="#000" stroke-width="5.7" />
<line x1="1273.20" y1="697.95" x2="1273.20" y2="693.95" stroke="#000" stroke-width="5.7" />
<line x1="1475.60" y1="697.95" x2="1475.60" y2="693.95" stroke="#000" stroke-width="5.7" />
<line x1="1678.00" y1="697.95" x2="1678.00" y2="693.95" stroke="#000" stroke-width="5.7" />
<line x1="1172.00" y1="38.15" x2="1172.00" y2="48.15" stroke="#000" stroke-width="5.7" />
<line x1="1374.40" y1="38.15" x2="1374.40" y2="48.15" stroke="#000" stroke-width="5.7" />
<line x1="1576.80" y1="38.15" x2="1576.80" y2="48.15" stroke="#000" stroke-width="5.7" />
<line x1="1273.20" y1="38.15" x2="1273.20" y2="41.65" stroke="#000" stroke-width="5.7" />
<line x1="1475.60" y1="38.15" x2="1475.60" y2="41.65" stroke="#000" stroke-width="5.7" />
<line x1="1678.00" y1="38.15" x2="1678.00" y2="41.65" stroke="#000" stroke-width="5.7" />
<line x1="1779.20" y1="38.15" x2="1779.20" y2="41.65" stroke="#000" stroke-width="5.7" />
<line x1="1073.65" y1="567.70" x2="1084.15" y2="567.70" stroke="#000" stroke-width="5.7" />
<line x1="1073.65" y1="434.60" x2="1084.15" y2="434.60" stroke="#000" stroke-width="5.7" />
<line x1="1073.65" y1="301.50" x2="1084.15" y2="301.50" stroke="#000" stroke-width="5.7" />
<line x1="1073.65" y1="168.40" x2="1084.15" y2="168.40" stroke="#000" stroke-width="5.7" />
<line x1="1073.65" y1="634.25" x2="1078.15" y2="634.25" stroke="#000" stroke-width="5.7" />
<line x1="1073.65" y1="501.15" x2="1078.15" y2="501.15" stroke="#000" stroke-width="5.7" />
<line x1="1073.65" y1="368.05" x2="1078.15" y2="368.05" stroke="#000" stroke-width="5.7" />
<line x1="1073.65" y1="234.95" x2="1078.15" y2="234.95" stroke="#000" stroke-width="5.7" />
<line x1="1073.65" y1="101.85" x2="1078.15" y2="101.85" stroke="#000" stroke-width="5.7" />
<line x1="1877.55" y1="567.70" x2="1867.05" y2="567.70" stroke="#000" stroke-width="5.7" />
<line x1="1877.55" y1="434.60" x2="1867.05" y2="434.60" stroke="#000" stroke-width="5.7" />
<line x1="1877.55" y1="301.50" x2="1867.05" y2="301.50" stroke="#000" stroke-width="5.7" />
<line x1="1877.55" y1="168.40" x2="1867.05" y2="168.40" stroke="#000" stroke-width="5.7" />
<line x1="1877.55" y1="634.25" x2="1873.05" y2="634.25" stroke="#000" stroke-width="5.7" />
<line x1="1877.55" y1="501.15" x2="1873.05" y2="501.15" stroke="#000" stroke-width="5.7" />
<line x1="1877.55" y1="368.05" x2="1873.05" y2="368.05" stroke="#000" stroke-width="5.7" />
<line x1="1877.55" y1="234.95" x2="1873.05" y2="234.95" stroke="#000" stroke-width="5.7" />
<line x1="1877.55" y1="101.85" x2="1873.05" y2="101.85" stroke="#000" stroke-width="5.7" />
<rect x="1070.80" y="35.30" width="809.60" height="665.50" fill="none" stroke="#000" stroke-width="5.7"/>
<polyline points="1121.8,698.0 1124.9,696.5 1128.0,694.8 1131.8,692.2 1135.5,688.5 1138.8,684.7 1142.2,679.2 1145.5,673.5 1148.8,667.0 1152.2,659.8 1155.5,651.0 1158.8,640.1 1162.2,628.5 1165.5,616.0 1168.8,603.6 1172.2,590.6 1175.5,576.0 1178.8,559.9 1182.2,543.4 1185.5,526.0 1188.8,506.3 1192.2,487.2 1195.5,468.5 1198.8,454.4 1202.2,441.0 1205.5,426.5 1208.6,409.2 1211.8,389.5 1214.9,369.1 1218.0,350.0 1221.0,333.3 1224.0,316.3 1227.0,300.2 1230.0,285.2 1233.0,270.0 1236.0,254.5 1239.0,239.8 1242.0,225.6 1245.0,211.8 1248.0,200.0 1251.3,188.9 1254.7,180.4 1258.0,172.5 1261.3,164.4 1264.7,156.0 1268.0,150.0 1271.2,149.6 1274.3,150.0 1279.3,142.0 1282.4,141.7 1285.5,143.8 1289.2,148.9 1293.0,155.0 1296.8,161.0 1300.5,167.0 1304.3,175.0 1308.0,185.7 1311.8,197.2 1315.5,207.5 1318.6,215.8 1321.8,223.2 1324.9,230.0 1328.0,237.5 1331.0,243.9 1334.0,250.4 1337.0,256.6 1340.0,264.6 1343.0,272.5 1346.0,282.2 1349.0,293.9 1352.0,305.1 1355.0,317.3 1358.0,327.5 1361.1,337.9 1364.2,346.1 1367.4,355.3 1370.5,365.0 1373.6,375.4 1376.8,385.0 1379.9,395.7 1383.0,405.0 1386.8,415.6 1390.5,426.5 1394.0,437.4 1397.5,450.0 1401.0,462.2 1404.5,472.9 1408.0,483.5 1411.0,489.9 1414.0,495.4 1417.0,501.2 1420.0,507.0 1424.0,520.5 1428.1,533.9 1431.2,541.6 1434.4,548.8 1437.5,555.5 1441.1,561.5 1444.7,567.1 1448.3,573.0 1451.3,577.6 1454.3,580.8 1457.4,585.2 1460.4,589.2 1463.8,594.2 1467.2,599.2 1470.5,605.1 1473.9,609.4 1477.3,612.8 1480.7,616.8 1484.0,619.3 1487.4,622.9 1490.8,626.0 1494.2,628.8 1497.5,631.8 1500.9,635.0 1504.3,638.4 1507.7,640.9 1511.0,643.0 1514.4,645.8 1518.0,649.1 1521.6,650.9 1525.2,653.3 1528.3,653.8 1531.5,654.3 1534.6,654.6 1538.7,658.5 1542.7,662.0 1548.1,660.7 1551.4,656.9 1554.8,653.9 1559.5,651.9 1564.9,655.3 1568.7,661.1 1572.4,666.1 1576.4,671.0 1580.4,675.5 1584.5,677.8 1588.5,678.9 1593.9,674.1 1599.3,655.3 1604.7,637.7 1610.1,633.0 1615.5,637.1 1620.9,653.9 1626.3,674.1 1631.7,683.6 1635.1,686.6 1638.4,687.6 1642.1,688.5 1645.7,689.3 1649.3,689.6 1653.0,690.7 1656.2,690.6 1659.5,691.6 1662.8,691.6 1666.0,692.3 1669.2,692.4 1672.5,692.7 1675.8,693.6 1679.0,693.3 1682.3,693.5 1685.6,693.8 1688.8,694.4 1692.1,693.7 1695.4,693.9 1698.7,694.9 1702.0,695.0 1705.2,694.4 1708.5,694.5 1711.8,695.0 1714.8,695.5 1717.9,695.9 1720.9,695.3 1724.0,696.4 1727.0,696.6 1730.1,696.4 1733.1,696.2 1736.2,695.7 1739.2,695.9 1742.2,694.7 1745.3,694.9 1748.3,692.8 1751.3,692.1 1754.4,690.2 1757.4,689.4 1760.7,688.7 1764.0,687.4 1767.2,686.1 1770.5,685.5 1775.7,684.8 1779.6,686.0 1783.5,688.7 1787.5,691.6 1791.4,694.0 1795.3,695.8 1799.2,697.8 1802.5,697.2 1805.7,695.9 1809.0,693.1 1812.2,688.7 1815.5,682.4 1818.8,675.0 1824.6,667.5 1830.5,675.0 1833.8,681.9 1837.0,688.7 1842.3,696.6 1846.2,699.0 1849.3,698.9 1852.5,699.8 1855.6,699.0 1858.7,698.7 1861.9,699.0 1865.0,699.2 1868.2,698.7 1871.3,698.7 1874.4,698.9 1877.6,699.1 1880.7,699.0" fill="none" stroke="#000000" stroke-width="3.5" stroke-linejoin="round" stroke-linecap="butt"/>
<polyline points="1121.8,698.5 1124.9,697.4 1128.0,696.0 1131.3,694.1 1134.7,691.7 1138.0,688.5 1141.3,684.6 1144.7,680.3 1148.0,676.0 1151.3,669.9 1154.7,663.0 1158.0,656.0 1161.3,648.7 1164.7,640.3 1168.0,631.0 1171.3,621.2 1174.7,610.4 1178.0,598.5 1181.3,585.3 1184.7,570.1 1188.0,556.0 1191.3,541.6 1194.7,526.9 1198.0,513.5 1201.3,501.4 1204.7,488.3 1208.0,476.0 1211.8,460.5 1215.5,443.1 1219.3,426.5 1222.5,411.4 1225.8,395.0 1229.0,379.1 1232.3,364.4 1235.5,350.0 1238.5,337.7 1241.5,326.9 1244.5,318.0 1247.5,308.3 1250.5,300.0 1253.8,291.4 1257.0,285.3 1260.3,278.8 1263.5,272.1 1266.8,267.5 1270.1,264.0 1273.5,262.2 1276.8,261.3 1279.9,259.0 1283.0,258.8 1286.3,261.5 1289.7,264.8 1293.0,270.0 1297.4,278.9 1301.8,287.5 1305.5,292.0 1309.3,296.5 1313.0,302.5 1316.8,312.4 1320.5,322.5 1323.6,329.6 1326.8,336.6 1329.9,343.5 1333.0,350.0 1336.0,356.1 1339.0,361.9 1342.0,367.4 1345.0,374.2 1348.0,380.0 1351.0,386.8 1354.0,393.2 1357.0,399.2 1360.0,405.5 1363.0,412.5 1368.0,426.5 1371.0,434.3 1374.0,442.5 1377.0,450.3 1380.0,457.5 1383.0,466.0 1386.0,474.2 1389.0,483.3 1392.0,492.3 1395.0,501.2 1398.0,508.5 1401.5,516.4 1405.0,523.0 1408.5,530.7 1412.0,536.8 1415.5,543.5 1418.6,549.4 1421.6,554.8 1424.7,560.8 1427.7,566.2 1430.8,571.7 1434.4,577.8 1438.0,582.3 1441.6,587.9 1444.6,592.2 1447.7,595.8 1450.7,600.4 1453.7,604.0 1457.1,607.7 1460.5,612.2 1463.8,616.3 1467.2,620.2 1470.6,623.7 1474.0,626.1 1477.3,629.5 1480.7,632.4 1484.1,634.9 1487.5,637.7 1490.8,640.5 1494.2,643.1 1497.5,646.2 1500.9,648.1 1504.2,651.0 1507.6,652.6 1511.0,654.1 1514.3,656.8 1517.7,657.7 1521.1,659.3 1524.5,660.1 1527.8,661.6 1531.2,662.7 1534.6,663.4 1537.7,664.8 1540.9,667.5 1544.0,668.8 1548.0,666.3 1552.1,662.0 1555.8,659.5 1559.5,658.6 1562.5,659.2 1565.6,662.0 1569.7,666.6 1573.7,672.8 1577.8,676.8 1581.8,680.9 1585.5,682.8 1589.2,682.9 1592.2,682.5 1595.3,678.2 1600.7,659.3 1606.1,643.1 1610.8,639.1 1616.2,643.1 1621.6,659.3 1627.0,678.2 1630.0,684.7 1633.0,687.6 1636.2,689.5 1639.3,689.8 1642.5,691.0 1646.0,691.4 1649.5,692.4 1653.0,692.8 1656.5,692.8 1660.0,693.0 1663.2,693.0 1666.4,693.8 1669.5,694.1 1672.7,694.6 1675.9,694.4 1679.1,695.0 1682.4,695.8 1685.6,695.9 1688.9,695.3 1692.2,695.6 1695.4,696.5 1698.7,695.9 1701.9,696.8 1705.2,696.4 1708.3,696.5 1711.4,696.9 1714.5,697.0 1717.6,696.5 1720.7,696.7 1723.7,696.8 1726.8,697.3 1729.9,697.4 1733.0,696.6 1736.1,697.4 1739.2,696.8 1743.1,695.9 1747.0,694.3 1750.9,693.2 1754.4,691.9 1757.8,691.3 1761.3,689.5 1764.4,688.5 1767.4,687.6 1770.5,686.6 1775.7,686.0 1780.9,688.5 1784.0,691.2 1787.0,693.6 1790.1,695.0 1793.1,696.7 1796.2,697.4 1799.2,698.0 1802.5,697.7 1805.7,696.0 1809.0,693.7 1812.2,689.0 1815.5,682.9 1818.8,676.0 1824.6,669.0 1830.5,676.0 1833.8,682.5 1837.0,689.0 1842.3,696.6 1846.2,699.1 1849.3,699.1 1852.5,699.2 1855.6,699.7 1858.7,699.5 1861.9,698.8 1865.0,699.6 1868.2,699.8 1871.3,699.6 1874.4,699.6 1877.6,699.6 1880.7,699.1" fill="none" stroke="#0070b0" stroke-width="3.8" stroke-linejoin="round" stroke-linecap="butt"/>
<polyline points="1121.8,698.5 1124.9,697.1 1128.0,696.1 1133.0,692.9 1138.0,689.3 1143.0,683.8 1148.0,677.8 1153.0,669.0 1158.0,660.0 1163.0,649.0 1168.0,637.4 1173.0,623.0 1178.0,607.3 1183.0,587.9 1188.0,567.0 1193.0,546.0 1198.0,527.2 1203.0,510.3 1208.0,493.7 1211.8,479.4 1215.5,464.4 1219.3,449.0 1223.0,433.3 1226.1,420.2 1229.2,405.7 1232.4,392.5 1235.5,380.7 1238.6,369.7 1241.8,360.1 1244.9,351.8 1248.0,343.1 1251.3,334.5 1254.7,327.8 1258.0,321.3 1262.4,313.0 1266.8,307.2 1271.2,303.9 1275.5,302.4 1279.2,300.3 1283.0,300.2 1286.3,303.3 1289.7,307.0 1293.0,311.6 1297.4,318.7 1301.8,327.1 1306.2,332.1 1310.5,338.0 1313.8,344.1 1317.2,352.3 1320.5,359.2 1324.2,367.2 1328.0,374.3 1333.0,384.1 1336.1,390.2 1339.2,395.9 1342.4,401.4 1345.5,407.0 1349.0,414.3 1352.5,421.0 1356.0,427.3 1359.5,435.2 1363.0,442.0 1368.0,454.3 1371.0,461.3 1374.0,468.5 1377.0,475.2 1380.0,482.0 1383.0,489.2 1386.0,496.3 1389.0,503.9 1392.0,511.2 1395.0,518.4 1398.0,525.9 1403.0,535.0 1406.1,541.1 1409.2,546.8 1412.4,552.8 1415.5,557.8 1420.0,565.5 1423.6,571.7 1427.2,577.5 1430.8,583.2 1433.5,586.9 1437.5,592.8 1441.6,597.9 1447.0,604.5 1450.3,608.2 1453.7,612.7 1457.1,616.8 1460.4,620.3 1463.8,623.9 1467.2,627.4 1470.6,629.9 1473.9,633.0 1477.3,635.5 1480.7,638.6 1484.1,641.2 1487.4,643.6 1490.8,645.8 1494.2,648.5 1497.6,650.7 1500.9,653.0 1504.2,655.3 1507.6,657.2 1511.0,658.8 1514.4,660.4 1517.8,661.5 1521.1,663.3 1524.5,664.4 1527.9,665.3 1531.2,665.8 1534.6,667.0 1537.3,668.2 1540.7,670.3 1544.0,671.8 1548.0,668.3 1552.1,664.6 1555.8,662.1 1559.5,661.0 1562.5,661.3 1565.6,664.1 1569.7,669.3 1573.7,674.4 1577.8,679.4 1581.8,682.2 1585.2,683.7 1588.5,683.9 1591.9,683.3 1595.3,679.2 1600.7,660.3 1606.1,644.1 1610.8,639.9 1616.2,644.1 1621.6,660.3 1627.0,678.9 1630.0,685.2 1633.0,688.1 1636.2,689.4 1639.3,690.5 1642.5,691.5 1646.0,692.4 1649.5,692.9 1653.0,693.0 1656.5,692.7 1660.0,693.5 1663.2,693.7 1666.4,694.6 1669.5,695.0 1672.7,695.2 1675.9,694.8 1679.1,695.4 1682.4,696.1 1685.6,695.7 1688.9,696.3 1692.2,695.8 1695.4,696.9 1698.7,696.6 1701.9,696.9 1705.2,696.7 1708.3,696.4 1711.4,697.0 1714.5,697.1 1717.6,697.2 1720.7,697.1 1723.7,697.6 1726.8,697.2 1729.9,697.1 1733.0,696.9 1736.1,697.4 1739.2,697.0 1743.1,695.8 1747.0,694.5 1750.9,693.4 1754.4,691.6 1757.8,691.0 1761.3,689.6 1764.4,688.6 1767.4,687.6 1770.5,686.6 1775.7,686.0 1780.9,688.5 1784.0,690.2 1787.0,693.0 1790.1,695.1 1793.1,696.3 1796.2,697.0 1799.2,698.0 1802.5,697.0 1805.7,696.0 1809.0,693.7 1812.2,688.9 1815.5,681.9 1818.8,675.6 1824.6,668.4 1830.5,675.6 1833.8,681.9 1837.0,688.9 1842.3,696.6 1846.2,699.1 1849.3,699.0 1852.5,699.5 1855.6,698.9 1858.7,699.4 1861.9,699.3 1865.0,699.8 1868.2,698.7 1871.3,699.0 1874.4,699.2 1877.6,699.7 1880.7,699.1" fill="none" stroke="#0099aa" stroke-width="3.8" stroke-linejoin="round" stroke-linecap="butt"/>
<polyline points="1121.8,698.5 1124.9,696.9 1128.0,696.2 1133.0,693.5 1138.0,690.0 1143.0,685.2 1148.0,679.6 1153.0,672.0 1158.0,663.8 1163.0,654.3 1168.0,643.6 1173.0,631.0 1178.0,615.9 1183.0,598.2 1188.0,577.6 1193.0,557.0 1198.0,540.5 1203.0,525.4 1208.0,510.8 1211.8,498.1 1215.5,484.6 1219.3,470.8 1223.0,456.8 1226.1,445.4 1229.2,432.5 1232.4,420.9 1235.5,410.5 1238.6,401.3 1241.8,392.6 1244.9,384.2 1248.0,376.8 1251.3,369.4 1254.7,362.2 1258.0,356.3 1262.4,350.4 1266.8,345.7 1271.2,342.5 1275.5,341.4 1279.2,339.6 1283.0,340.3 1286.3,343.6 1289.7,347.1 1293.0,351.8 1297.4,358.3 1301.8,365.4 1306.2,370.7 1310.5,375.6 1313.8,381.7 1317.2,387.7 1320.5,394.6 1324.2,401.6 1328.0,408.4 1333.0,417.2 1336.1,422.5 1339.2,427.0 1342.4,432.7 1345.5,437.9 1349.0,443.7 1352.5,450.5 1356.0,456.7 1359.5,463.5 1363.0,470.6 1368.0,481.2 1371.0,487.9 1374.0,493.2 1377.0,500.0 1380.0,505.4 1383.0,511.6 1386.0,518.0 1389.0,524.6 1392.0,530.7 1395.0,536.2 1398.0,542.7 1403.0,550.9 1406.1,556.2 1409.2,561.5 1412.4,566.2 1415.5,571.7 1420.0,578.8 1423.6,583.6 1427.2,589.7 1430.8,594.4 1433.5,597.8 1437.5,602.7 1441.6,607.6 1447.0,613.6 1450.3,617.0 1453.7,621.2 1457.1,624.7 1460.4,628.2 1463.8,631.1 1467.2,634.4 1470.6,637.4 1473.9,639.5 1477.3,642.1 1480.7,644.7 1484.1,646.6 1487.4,649.4 1490.8,652.0 1494.2,653.8 1497.6,655.4 1500.9,657.9 1504.2,659.6 1507.6,661.6 1511.0,662.7 1514.4,664.7 1517.8,666.3 1521.1,667.2 1524.5,667.8 1527.9,669.1 1531.2,669.8 1534.6,670.4 1537.3,671.3 1540.7,673.1 1544.0,674.6 1548.0,671.3 1552.1,667.2 1555.8,664.9 1559.5,663.4 1562.5,664.1 1565.6,666.2 1569.7,670.9 1573.7,676.0 1577.8,680.2 1581.8,683.5 1585.2,684.9 1588.5,685.1 1591.9,684.1 1595.3,680.1 1600.7,661.3 1606.1,645.1 1610.8,640.7 1616.2,645.1 1621.6,661.3 1627.0,679.5 1630.0,684.8 1633.0,688.6 1636.2,690.4 1639.3,691.1 1642.5,692.0 1646.0,693.0 1649.5,693.5 1653.0,692.8 1656.5,693.2 1660.0,694.0 1663.2,694.6 1666.4,694.7 1669.5,694.4 1672.7,695.6 1675.9,696.2 1679.1,695.9 1682.4,696.0 1685.6,696.1 1688.9,696.5 1692.2,697.1 1695.4,696.4 1698.7,696.6 1701.9,696.5 1705.2,697.0 1708.3,697.2 1711.4,697.1 1714.5,697.0 1717.6,697.2 1720.7,696.9 1723.7,697.3 1726.8,698.1 1729.9,697.7 1733.0,697.2 1736.1,697.9 1739.2,697.2 1743.1,696.2 1747.0,694.7 1750.9,693.5 1754.4,691.7 1757.8,690.6 1761.3,689.7 1764.4,688.3 1767.4,687.3 1770.5,686.7 1775.7,686.0 1780.9,688.6 1784.0,691.3 1787.0,692.9 1790.1,695.1 1793.1,696.3 1796.2,697.7 1799.2,698.0 1802.5,698.1 1805.7,696.0 1809.0,692.9 1812.2,688.9 1815.5,682.5 1818.8,675.2 1824.6,667.8 1830.5,675.2 1833.8,681.8 1837.0,688.9 1842.3,696.6 1846.2,699.1 1849.3,699.4 1852.5,699.5 1855.6,700.0 1858.7,699.8 1861.9,699.5 1865.0,699.8 1868.2,699.2 1871.3,699.1 1874.4,699.8 1877.6,699.2 1880.7,699.1" fill="none" stroke="#00d6ba" stroke-width="3.8" stroke-linejoin="round" stroke-linecap="butt"/>
<polyline points="1121.8,698.5 1124.9,698.0 1128.0,696.3 1133.0,694.2 1138.0,690.9 1143.0,686.9 1148.0,681.6 1153.0,675.4 1158.0,668.2 1163.0,660.3 1168.0,650.6 1173.0,640.0 1178.0,625.6 1183.0,610.0 1188.0,589.7 1193.0,569.3 1198.0,555.6 1203.0,542.4 1208.0,530.2 1211.8,518.5 1215.5,507.7 1219.3,495.6 1223.0,483.4 1226.1,472.9 1229.2,463.7 1232.4,452.7 1235.5,444.2 1238.6,436.6 1241.8,428.9 1244.9,422.2 1248.0,415.0 1251.3,408.6 1254.7,401.1 1258.0,396.1 1262.4,391.7 1266.8,389.3 1271.2,387.3 1275.5,385.7 1279.2,384.6 1283.0,385.7 1286.3,388.6 1289.7,392.8 1293.0,397.5 1297.4,403.7 1301.8,408.9 1306.2,413.9 1310.5,418.3 1313.8,423.8 1317.2,428.9 1320.5,434.9 1324.2,441.6 1328.0,447.1 1333.0,454.7 1336.1,459.2 1339.2,463.3 1342.4,468.1 1345.5,473.0 1349.0,478.7 1352.5,484.2 1356.0,490.9 1359.5,496.8 1363.0,503.0 1368.0,511.7 1371.0,516.9 1374.0,522.4 1377.0,527.1 1380.0,531.9 1383.0,537.1 1386.0,542.5 1389.0,547.7 1392.0,552.0 1395.0,557.5 1398.0,561.8 1403.0,569.0 1406.1,573.0 1409.2,577.8 1412.4,582.5 1415.5,587.4 1420.0,593.9 1423.6,598.9 1427.2,602.9 1430.8,607.0 1433.5,610.0 1437.5,614.6 1441.6,618.5 1447.0,624.0 1450.3,627.1 1453.7,630.7 1457.1,634.1 1460.4,637.3 1463.8,640.4 1467.2,642.4 1470.6,644.2 1473.9,646.9 1477.3,648.8 1480.7,651.5 1484.1,653.2 1487.4,655.9 1490.8,657.8 1494.2,659.8 1497.6,662.1 1500.9,663.5 1504.2,665.2 1507.6,666.7 1511.0,668.1 1514.4,669.5 1517.8,670.6 1521.1,671.6 1524.5,672.2 1527.9,673.4 1531.2,674.5 1534.6,674.3 1537.3,674.9 1540.7,676.8 1544.0,677.9 1548.0,674.1 1552.1,670.1 1555.8,667.2 1559.5,666.0 1562.5,667.0 1565.6,668.6 1569.7,672.8 1573.7,677.8 1577.8,682.3 1581.8,684.9 1585.2,686.2 1588.5,686.4 1591.9,685.1 1595.3,681.2 1600.7,662.4 1606.1,646.2 1610.8,641.6 1616.2,646.2 1621.6,662.4 1627.0,680.2 1630.0,685.4 1633.0,689.2 1636.2,691.5 1639.3,692.3 1642.5,692.5 1646.0,693.1 1649.5,693.1 1653.0,693.8 1656.5,694.0 1660.0,694.5 1663.2,695.2 1666.4,695.7 1669.5,695.8 1672.7,695.6 1675.9,695.6 1679.1,696.3 1682.4,697.0 1685.6,697.2 1688.9,696.4 1692.2,697.0 1695.4,697.0 1698.7,697.7 1701.9,696.7 1705.2,697.3 1708.3,696.8 1711.4,697.9 1714.5,697.6 1717.6,697.6 1720.7,698.1 1723.7,697.9 1726.8,698.0 1729.9,697.5 1733.0,697.2 1736.1,697.0 1739.2,697.4 1743.1,696.4 1747.0,695.4 1750.9,693.7 1754.4,692.3 1757.8,691.0 1761.3,689.9 1764.4,688.9 1767.4,687.9 1770.5,686.7 1775.7,686.1 1780.9,688.6 1784.0,691.0 1787.0,693.0 1790.1,695.2 1793.1,697.0 1796.2,698.0 1799.2,698.1 1802.5,698.1 1805.7,695.9 1809.0,693.6 1812.2,688.8 1815.5,681.3 1818.8,674.8 1824.6,667.1 1830.5,674.8 1833.8,681.9 1837.0,688.8 1842.3,696.6 1846.2,699.2 1849.3,699.2 1852.5,699.3 1855.6,699.5 1858.7,699.1 1861.9,699.2 1865.0,700.0 1868.2,699.2 1871.3,699.8 1874.4,699.5 1877.6,699.0 1880.7,699.2" fill="none" stroke="#00ea98" stroke-width="3.8" stroke-linejoin="round" stroke-linecap="butt"/>
<polyline points="1121.8,698.5 1125.5,697.2 1129.3,696.2 1133.0,694.8 1136.3,693.0 1139.7,690.9 1143.0,688.5 1146.3,685.4 1149.7,682.3 1153.0,678.5 1156.3,674.4 1159.7,670.8 1163.0,666.0 1166.3,660.3 1169.7,655.0 1173.0,648.5 1176.3,640.3 1179.7,631.0 1183.0,621.0 1186.3,608.2 1189.7,593.3 1193.0,581.0 1196.3,572.5 1199.7,565.7 1203.0,558.5 1206.8,551.0 1210.5,543.5 1213.6,535.7 1216.8,526.7 1219.9,517.5 1223.0,508.5 1226.1,499.5 1229.2,491.6 1232.4,483.7 1235.5,476.0 1238.6,468.9 1241.8,462.5 1244.9,456.7 1248.0,451.0 1251.3,444.0 1254.7,438.3 1258.0,433.5 1261.5,430.9 1265.0,429.4 1268.5,428.7 1272.0,428.4 1275.5,427.3 1279.2,426.7 1283.0,428.5 1286.1,431.1 1289.2,436.1 1292.4,440.1 1295.5,443.5 1298.5,446.9 1301.5,449.4 1304.5,451.8 1307.5,454.7 1310.5,458.5 1314.0,462.9 1317.5,468.1 1321.0,472.8 1324.5,478.8 1328.0,483.5 1331.5,488.4 1335.0,491.9 1338.5,497.2 1342.0,501.2 1345.5,506.0 1349.0,511.7 1352.5,516.8 1356.0,522.9 1359.5,528.1 1363.0,533.5 1366.3,538.5 1369.7,543.0 1373.0,547.1 1376.3,551.7 1379.7,556.3 1383.0,561.0 1386.3,565.2 1389.7,569.3 1393.0,573.6 1396.3,577.9 1399.7,581.7 1403.0,586.0 1406.4,590.2 1409.8,595.0 1413.2,600.1 1416.6,604.3 1420.0,608.1 1423.4,612.0 1426.8,615.6 1430.1,618.1 1433.5,621.6 1436.9,624.2 1440.2,627.2 1443.6,630.2 1447.0,633.7 1450.3,636.2 1453.7,640.1 1457.1,643.6 1460.4,645.8 1463.8,647.6 1467.2,650.3 1470.5,652.5 1473.9,653.9 1477.3,656.3 1480.7,657.6 1484.0,660.2 1487.4,662.0 1490.8,663.5 1494.2,665.2 1497.5,666.6 1500.9,668.8 1504.3,670.3 1507.7,672.2 1511.0,672.5 1514.4,674.1 1517.8,674.7 1521.2,675.9 1524.5,676.3 1527.9,677.5 1531.0,677.7 1534.2,678.1 1537.3,678.2 1540.7,680.0 1544.0,680.9 1548.0,676.7 1552.1,672.8 1556.2,669.2 1560.2,668.1 1563.6,668.6 1567.0,671.5 1570.3,675.6 1573.7,679.5 1577.8,683.9 1581.8,686.3 1585.2,687.7 1588.5,687.6 1591.9,685.9 1595.3,682.2 1600.7,663.4 1606.1,647.2 1610.8,642.5 1616.2,647.2 1621.6,663.4 1627.0,680.9 1630.0,686.1 1633.0,689.7 1636.2,691.4 1639.3,691.9 1642.5,693.0 1646.0,693.1 1649.5,693.9 1653.0,694.8 1656.5,694.4 1660.0,695.0 1663.2,695.8 1666.4,696.1 1669.5,695.9 1672.7,696.0 1675.9,696.2 1679.1,696.8 1682.4,697.2 1685.6,697.5 1688.9,697.7 1692.2,697.0 1695.4,697.3 1698.7,696.9 1701.9,697.3 1705.2,697.6 1708.3,697.4 1711.4,697.3 1714.5,697.3 1717.6,698.5 1720.7,697.7 1723.7,698.0 1726.8,698.1 1729.9,698.0 1733.0,698.1 1736.1,697.8 1739.2,697.6 1743.1,696.8 1747.0,694.9 1750.9,693.9 1754.4,692.8 1757.8,691.5 1761.3,690.0 1764.4,689.1 1767.4,687.5 1770.5,686.8 1775.7,686.1 1780.9,688.7 1784.0,690.9 1787.0,693.7 1790.1,695.3 1793.1,697.0 1796.2,697.1 1799.2,698.1 1802.5,697.4 1805.7,695.9 1809.0,692.7 1812.2,688.7 1815.5,681.9 1818.8,674.4 1824.6,666.5 1830.5,674.4 1833.8,681.4 1837.0,688.7 1842.3,696.6 1846.2,699.2 1849.3,699.2 1852.5,699.2 1855.6,699.5 1858.7,699.8 1861.9,699.7 1865.0,699.1 1868.2,699.3 1871.3,699.5 1874.4,698.7 1877.6,699.7 1880.7,699.2" fill="none" stroke="#00f46c" stroke-width="3.9" stroke-linejoin="round" stroke-linecap="butt"/>
<text transform="translate(1057.50 716.00) scale(0.965 1)" font-size="43.5" text-anchor="end" font-weight="normal" fill="#000" >0</text>
<text transform="translate(1057.50 580.30) scale(0.965 1)" font-size="43.5" text-anchor="end" font-weight="normal" fill="#000" >1</text>
<text transform="translate(1057.50 447.20) scale(0.965 1)" font-size="43.5" text-anchor="end" font-weight="normal" fill="#000" >2</text>
<text transform="translate(1057.50 314.10) scale(0.965 1)" font-size="43.5" text-anchor="end" font-weight="normal" fill="#000" >3</text>
<text transform="translate(1057.50 181.00) scale(0.965 1)" font-size="43.5" text-anchor="end" font-weight="normal" fill="#000" >4</text>
<text transform="translate(1057.50 47.90) scale(0.965 1)" font-size="43.5" text-anchor="end" font-weight="normal" fill="#000" >5</text>
<text transform="translate(1172.70 749.90) scale(0.965 1)" font-size="43.5" text-anchor="middle" font-weight="normal" fill="#000" >400</text>
<text transform="translate(1375.10 749.90) scale(0.965 1)" font-size="43.5" text-anchor="middle" font-weight="normal" fill="#000" >500</text>
<text transform="translate(1577.50 749.90) scale(0.965 1)" font-size="43.5" text-anchor="middle" font-weight="normal" fill="#000" >600</text>
<text transform="translate(1779.90 749.90) scale(0.965 1)" font-size="43.5" text-anchor="middle" font-weight="normal" fill="#000" >700</text>
<text x="1476.00" y="826.00" font-size="43.2" text-anchor="middle" font-weight="normal" fill="#000" >Wavelength (nm)</text>
<text x="992.30" y="341.30" font-size="43.5" text-anchor="middle" font-weight="normal" fill="#000" transform="rotate(-90 992.30 341.30)" >Intensity (a.u)</text>
<text transform="translate(1119.00 116.30) scale(0.95 1)" font-size="53">Ag</text>
<text x="1180.00" y="100.30" font-size="34" text-anchor="start" font-weight="normal" fill="#000" >+</text>
<text x="1783.00" y="113.80" font-size="58" text-anchor="start" font-weight="normal" fill="#000" >b)</text>
<path d="M1133 204.3 H1156.8 V389.5 H1169.3 L1145.5 412.5 L1121.8 389.5 H1133 Z" fill="url(#ag)"/>
<polyline points="1554.3,493.9 1559.3,494.8 1566.8,501.7 1574.3,511.7 1581.9,514.9 1589.4,518.6 1596.9,523.0 1604.5,525.5 1613.2,529.1 1621.4,528.1 1627.0,532.8 1634.6,530.6 1643.4,531.2 1649.6,524.3 1655.9,509.2 1660.9,489.2 1668.5,476.6 1674.7,462.8 1679.7,445.2 1686.0,426.4 1691.9,412.0 1698.6,428.9 1706.1,457.8 1714.9,499.2 1722.4,529.3 1728.7,538.1 1733.1,541.9 1738.7,524.3 1745.0,477.9 1748.8,430.2 1752.1,389.3 1756.8,320.1 1761.5,256.8 1765.0,235.8 1768.1,222.0 1770.9,237.8 1774.4,267.3 1779.1,330.7 1783.8,412.7 1788.5,494.8 1793.2,534.7 1797.4,552.2 1807.2,555.3 1821.3,554.6 1833.0,553.0 1847.0,553.4" fill="none" stroke="#000000" stroke-width="1.8" stroke-linejoin="round" stroke-linecap="butt"/>
<polyline points="1554.3,506.7 1561.8,506.1 1569.3,516.8 1576.9,523.0 1585.6,523.7 1594.4,529.3 1604.5,531.2 1615.8,535.6 1620.8,533.1 1628.3,537.5 1637.1,537.5 1644.6,534.3 1650.9,526.8 1657.2,514.0 1663.4,496.0 1671.0,484.5 1678.5,466.0 1686.0,441.0 1691.9,430.0 1698.6,440.0 1704.8,466.0 1712.4,504.0 1719.9,532.0 1727.4,541.0 1733.1,546.5 1738.7,524.3 1745.0,477.9 1748.8,430.2 1752.1,389.3 1756.8,321.3 1761.5,265.6 1765.0,247.1 1768.1,235.0 1770.9,248.9 1774.4,274.9 1779.1,330.7 1783.8,412.7 1788.5,494.8 1793.2,534.7 1797.4,552.2 1807.2,555.3 1821.3,554.6 1833.0,553.0 1847.0,553.4" fill="none" stroke="#0070b0" stroke-width="2.2" stroke-linejoin="round" stroke-linecap="butt"/>
<polyline points="1554.3,507.5 1561.8,509.6 1573.1,521.7 1584.4,525.9 1593.2,529.8 1603.2,533.9 1613.2,536.5 1623.3,535.8 1633.3,539.0 1639.6,536.4 1645.9,533.9 1652.1,525.6 1657.2,514.6 1663.4,496.4 1671.0,484.9 1678.5,466.4 1686.0,440.8 1691.9,429.3 1698.6,439.8 1704.8,466.4 1712.4,504.3 1719.9,532.2 1727.4,541.2 1733.1,546.8 1738.7,524.3 1745.0,477.9 1748.8,430.2 1752.1,389.3 1756.8,320.7 1761.5,260.9 1765.0,241.0 1768.1,228.0 1770.9,242.9 1774.4,270.8 1779.1,330.7 1783.8,412.7 1788.5,494.8 1793.2,534.7 1797.4,552.2 1807.2,555.3 1821.3,554.6 1833.0,553.0 1847.0,553.4" fill="none" stroke="#0099aa" stroke-width="2.2" stroke-linejoin="round" stroke-linecap="butt"/>
<polyline points="1554.3,512.4 1561.8,511.4 1573.1,521.5 1584.4,530.6 1593.2,532.4 1603.2,534.4 1613.2,537.2 1623.3,536.8 1633.3,542.1 1639.6,537.4 1645.9,535.4 1652.1,527.2 1657.2,515.3 1663.4,496.9 1671.0,485.5 1678.5,466.8 1686.0,440.6 1691.9,428.4 1698.6,439.6 1704.8,466.8 1712.4,504.7 1719.9,532.5 1727.4,541.4 1733.1,547.2 1738.7,524.3 1745.0,477.9 1748.8,430.2 1752.1,389.3 1756.8,319.9 1761.5,255.4 1765.0,234.0 1768.1,220.0 1770.9,236.1 1774.4,266.2 1779.1,330.7 1783.8,412.7 1788.5,494.8 1793.2,534.7 1797.4,552.2 1807.2,555.3 1821.3,554.6 1833.0,553.0 1847.0,553.4" fill="none" stroke="#00d6ba" stroke-width="2.2" stroke-linejoin="round" stroke-linecap="butt"/>
<polyline points="1554.3,514.6 1561.8,517.6 1573.1,526.0 1584.4,530.7 1593.2,536.4 1603.2,537.9 1613.2,538.0 1623.3,537.6 1633.3,541.8 1639.6,539.2 1645.9,536.9 1652.1,528.7 1657.2,516.0 1663.4,497.3 1671.0,486.0 1678.5,467.3 1686.0,440.4 1691.9,427.5 1698.6,439.3 1704.8,467.3 1712.4,505.1 1719.9,532.8 1727.4,541.6 1733.1,547.6 1738.7,524.3 1745.0,477.9 1748.8,430.2 1752.1,389.3 1756.8,319.4 1761.5,251.4 1765.0,228.8 1768.1,214.0 1770.9,231.0 1774.4,262.7 1779.1,330.7 1783.8,412.7 1788.5,494.8 1793.2,534.7 1797.4,552.2 1807.2,555.3 1821.3,554.6 1833.0,553.0 1847.0,553.4" fill="none" stroke="#00ea98" stroke-width="2.3" stroke-linejoin="round" stroke-linecap="butt"/>
<polyline points="1554.3,516.1 1561.8,520.5 1573.1,526.8 1584.4,535.6 1593.2,539.3 1603.2,541.2 1613.2,539.3 1623.3,540.6 1633.3,545.0 1639.6,540.6 1645.9,538.7 1652.1,530.6 1657.2,516.8 1663.4,497.9 1671.0,486.7 1678.5,467.8 1686.0,440.2 1691.9,426.4 1698.6,439.0 1704.8,467.8 1712.4,505.5 1719.9,533.1 1727.4,541.9 1733.1,548.1 1738.7,524.3 1745.0,477.9 1748.8,430.2 1752.1,389.3 1756.8,319.0 1761.5,248.6 1765.0,225.2 1768.1,209.9 1770.9,227.5 1774.4,260.3 1779.1,330.7 1783.8,412.7 1788.5,494.8 1793.2,534.7 1797.4,552.2 1807.2,555.3 1821.3,554.6 1833.0,553.0 1847.0,553.4" fill="none" stroke="#00f46c" stroke-width="2.6" stroke-linejoin="round" stroke-linecap="butt"/>
<line x1="1552.00" y1="120.80" x2="1754.50" y2="120.80" stroke="#000" stroke-width="3" />
<line x1="1553.20" y1="119.50" x2="1553.20" y2="580.50" stroke="#000" stroke-width="2.2" />
<line x1="1552.20" y1="575.30" x2="1848.50" y2="575.30" stroke="#000" stroke-width="2" />
<line x1="1847.50" y1="145.80" x2="1847.50" y2="580.50" stroke="#000" stroke-width="2.2" />
<line x1="1700.35" y1="575.00" x2="1700.35" y2="580.50" stroke="#000" stroke-width="2" />
<line x1="1626.78" y1="575.00" x2="1626.78" y2="578.50" stroke="#000" stroke-width="1.6" />
<line x1="1773.92" y1="575.00" x2="1773.92" y2="578.50" stroke="#000" stroke-width="1.6" />
<line x1="1548.20" y1="438.50" x2="1553.20" y2="438.50" stroke="#000" stroke-width="1.8" />
<line x1="1548.20" y1="302.20" x2="1553.20" y2="302.20" stroke="#000" stroke-width="1.8" />
<line x1="1548.20" y1="165.90" x2="1553.20" y2="165.90" stroke="#000" stroke-width="1.8" />
<line x1="1549.70" y1="506.65" x2="1553.20" y2="506.65" stroke="#000" stroke-width="1.5" />
<line x1="1549.70" y1="370.35" x2="1553.20" y2="370.35" stroke="#000" stroke-width="1.5" />
<line x1="1549.70" y1="234.05" x2="1553.20" y2="234.05" stroke="#000" stroke-width="1.5" />
<text x="1545.50" y="449.30" font-size="34.5" text-anchor="end" font-weight="normal" fill="#000" >1</text>
<text x="1545.50" y="313.00" font-size="34.5" text-anchor="end" font-weight="normal" fill="#000" >2</text>
<text x="1545.50" y="176.70" font-size="34.5" text-anchor="end" font-weight="normal" fill="#000" >3</text>
<text x="1553.20" y="611.70" font-size="34" text-anchor="middle" font-weight="normal" fill="#000" >650</text>
<text x="1701.85" y="611.70" font-size="34" text-anchor="middle" font-weight="normal" fill="#000" >700</text>
<text x="1848.00" y="611.70" font-size="34" text-anchor="middle" font-weight="normal" fill="#000" >750</text>
<text x="1586.50" y="473.80" font-size="33" text-anchor="start" font-weight="normal" fill="#000" >x25</text>
</g>
<g id="panelC">
<line x1="212.00" y1="1554.25" x2="212.00" y2="1544.25" stroke="#000" stroke-width="5.7" />
<line x1="372.50" y1="1554.25" x2="372.50" y2="1544.25" stroke="#000" stroke-width="5.7" />
<line x1="533.00" y1="1554.25" x2="533.00" y2="1544.25" stroke="#000" stroke-width="5.7" />
<line x1="693.50" y1="1554.25" x2="693.50" y2="1544.25" stroke="#000" stroke-width="5.7" />
<line x1="854.00" y1="1554.25" x2="854.00" y2="1544.25" stroke="#000" stroke-width="5.7" />
<line x1="292.25" y1="1554.25" x2="292.25" y2="1550.25" stroke="#000" stroke-width="5.7" />
<line x1="452.75" y1="1554.25" x2="452.75" y2="1550.25" stroke="#000" stroke-width="5.7" />
<line x1="613.25" y1="1554.25" x2="613.25" y2="1550.25" stroke="#000" stroke-width="5.7" />
<line x1="773.75" y1="1554.25" x2="773.75" y2="1550.25" stroke="#000" stroke-width="5.7" />
<line x1="212.00" y1="913.85" x2="212.00" y2="923.85" stroke="#000" stroke-width="5.7" />
<line x1="372.50" y1="913.85" x2="372.50" y2="923.85" stroke="#000" stroke-width="5.7" />
<line x1="533.00" y1="913.85" x2="533.00" y2="923.85" stroke="#000" stroke-width="5.7" />
<line x1="693.50" y1="913.85" x2="693.50" y2="923.85" stroke="#000" stroke-width="5.7" />
<line x1="292.25" y1="913.85" x2="292.25" y2="917.85" stroke="#000" stroke-width="5.7" />
<line x1="452.75" y1="913.85" x2="452.75" y2="917.85" stroke="#000" stroke-width="5.7" />
<line x1="613.25" y1="913.85" x2="613.25" y2="917.85" stroke="#000" stroke-width="5.7" />
<line x1="773.75" y1="913.85" x2="773.75" y2="917.85" stroke="#000" stroke-width="5.7" />
<line x1="854.00" y1="913.85" x2="854.00" y2="918.85" stroke="#000" stroke-width="5.7" />
<line x1="133.75" y1="1531.70" x2="144.25" y2="1531.70" stroke="#000" stroke-width="5.7" />
<line x1="133.75" y1="1407.55" x2="144.25" y2="1407.55" stroke="#000" stroke-width="5.7" />
<line x1="133.75" y1="1283.40" x2="144.25" y2="1283.40" stroke="#000" stroke-width="5.7" />
<line x1="133.75" y1="1159.25" x2="144.25" y2="1159.25" stroke="#000" stroke-width="5.7" />
<line x1="133.75" y1="1035.10" x2="144.25" y2="1035.10" stroke="#000" stroke-width="5.7" />
<line x1="133.75" y1="1469.62" x2="138.25" y2="1469.62" stroke="#000" stroke-width="5.7" />
<line x1="133.75" y1="1345.48" x2="138.25" y2="1345.48" stroke="#000" stroke-width="5.7" />
<line x1="133.75" y1="1221.33" x2="138.25" y2="1221.33" stroke="#000" stroke-width="5.7" />
<line x1="133.75" y1="1097.18" x2="138.25" y2="1097.18" stroke="#000" stroke-width="5.7" />
<line x1="133.75" y1="973.03" x2="138.25" y2="973.03" stroke="#000" stroke-width="5.7" />
<line x1="931.45" y1="1531.70" x2="920.95" y2="1531.70" stroke="#000" stroke-width="5.7" />
<line x1="931.45" y1="1407.55" x2="920.95" y2="1407.55" stroke="#000" stroke-width="5.7" />
<line x1="931.45" y1="1283.40" x2="920.95" y2="1283.40" stroke="#000" stroke-width="5.7" />
<line x1="931.45" y1="1159.25" x2="920.95" y2="1159.25" stroke="#000" stroke-width="5.7" />
<line x1="931.45" y1="1035.10" x2="920.95" y2="1035.10" stroke="#000" stroke-width="5.7" />
<line x1="931.45" y1="1469.62" x2="926.95" y2="1469.62" stroke="#000" stroke-width="5.7" />
<line x1="931.45" y1="1345.48" x2="926.95" y2="1345.48" stroke="#000" stroke-width="5.7" />
<line x1="931.45" y1="1221.33" x2="926.95" y2="1221.33" stroke="#000" stroke-width="5.7" />
<line x1="931.45" y1="1097.18" x2="926.95" y2="1097.18" stroke="#000" stroke-width="5.7" />
<line x1="931.45" y1="973.03" x2="926.95" y2="973.03" stroke="#000" stroke-width="5.7" />
<rect x="130.90" y="911.00" width="803.40" height="646.10" fill="none" stroke="#000" stroke-width="5.7"/>
<text transform="translate(118.00 1544.70) scale(0.97 1)" font-size="44" text-anchor="end" font-weight="normal" fill="#000" >0</text>
<text transform="translate(118.00 1420.55) scale(0.97 1)" font-size="44" text-anchor="end" font-weight="normal" fill="#000" >5</text>
<text transform="translate(118.00 1296.40) scale(0.97 1)" font-size="44" text-anchor="end" font-weight="normal" fill="#000" >10</text>
<text transform="translate(118.00 1172.25) scale(0.97 1)" font-size="44" text-anchor="end" font-weight="normal" fill="#000" >15</text>
<text transform="translate(118.00 1048.10) scale(0.97 1)" font-size="44" text-anchor="end" font-weight="normal" fill="#000" >20</text>
<text transform="translate(118.00 923.95) scale(0.97 1)" font-size="44" text-anchor="end" font-weight="normal" fill="#000" >25</text>
<text transform="translate(212.00 1603.30) scale(0.97 1)" font-size="44" text-anchor="middle" font-weight="normal" fill="#000" >0</text>
<text transform="translate(372.50 1603.30) scale(0.97 1)" font-size="44" text-anchor="middle" font-weight="normal" fill="#000" >2</text>
<text transform="translate(533.00 1603.30) scale(0.97 1)" font-size="44" text-anchor="middle" font-weight="normal" fill="#000" >4</text>
<text transform="translate(693.50 1603.30) scale(0.97 1)" font-size="44" text-anchor="middle" font-weight="normal" fill="#000" >6</text>
<text transform="translate(854.00 1603.30) scale(0.97 1)" font-size="44" text-anchor="middle" font-weight="normal" fill="#000" >8</text>
<rect x="213.0" y="1517.3" width="14" height="14" fill="#000"/>
<rect x="285.2" y="1480.0" width="14" height="14" fill="#000"/>
<rect x="365.5" y="1378.2" width="14" height="14" fill="#000"/>
<rect x="606.2" y="1156.0" width="14" height="14" fill="#000"/>
<line x1="212.50" y1="1533.00" x2="799.80" y2="1024.50" stroke="#000" stroke-width="3.8" />
<circle cx="212.0" cy="1531.7" r="8" fill="#e60000"/>
<circle cx="292.2" cy="1526.2" r="8" fill="#e60000"/>
<circle cx="372.5" cy="1516.8" r="8" fill="#e60000"/>
<circle cx="613.2" cy="1507.2" r="8" fill="#e60000"/>
<circle cx="854.0" cy="1498.4" r="8" fill="#e60000"/>
<line x1="212.50" y1="1533.00" x2="226.00" y2="1521.30" stroke="#000" stroke-width="3.6" />
<line x1="213.00" y1="1531.60" x2="855.00" y2="1496.80" stroke="#ff3333" stroke-width="3.4" />
<rect x="179.2" y="941.7" width="15" height="15" fill="#000"/>
<circle cx="186.6" cy="999.3" r="8.75" fill="#e60000"/>
<text x="237.80" y="961.40" font-size="36.5" text-anchor="start" font-weight="normal" fill="#000" >Eu-Cdots</text>
<text x="238.40" y="1011.50" font-size="36.5" text-anchor="start" font-weight="normal" fill="#000" >Cdots + Eu<tspan font-size="22.5" dy="-15" dx="2.5">3+</tspan></text>
<text x="196.50" y="1072.00" font-size="41" text-anchor="start" font-weight="normal" fill="#000" font-family='"Liberation Serif", "DejaVu Serif", serif'>λ</text>
<text x="218.00" y="1081.20" font-size="24" text-anchor="start" font-weight="normal" fill="#000" >em</text>
<text x="264.90" y="1072.00" font-size="40" text-anchor="start" font-weight="normal" fill="#000" stroke="#000" stroke-width="0.8">= 450 nm</text>
<text transform="translate(192.30 1150.80) scale(0.95 1)" font-size="53">Hg</text>
<text x="255.30" y="1132.50" font-size="34" text-anchor="start" font-weight="normal" fill="#000" >2+</text>
<text x="826.00" y="993.30" font-size="58" text-anchor="start" font-weight="normal" fill="#000" >c)</text>
<text x="46.00" y="1236.00" font-size="42" text-anchor="middle" font-weight="normal" fill="#000" transform="rotate(-90 46.00 1236.00)" >I<tspan font-size="28" dy="9">0</tspan><tspan dy="-9">/I-1</tspan></text>
<text x="405.50" y="1677.20" font-size="43.1" text-anchor="start" font-weight="normal" fill="#000" >[Hg<tspan font-size="28.5" dy="-18">2+</tspan><tspan dy="18">] /10</tspan><tspan font-size="28.5" dy="-18.3">-5</tspan><tspan dy="18.3"> M</tspan></text>
</g>
<g id="panelD">
<line x1="1096.00" y1="1563.15" x2="1096.00" y2="1572.65" stroke="#000" stroke-width="5.7" />
<line x1="1292.00" y1="1563.15" x2="1292.00" y2="1572.65" stroke="#000" stroke-width="5.7" />
<line x1="1488.00" y1="1563.15" x2="1488.00" y2="1572.65" stroke="#000" stroke-width="5.7" />
<line x1="1684.00" y1="1563.15" x2="1684.00" y2="1572.65" stroke="#000" stroke-width="5.7" />
<line x1="1194.00" y1="1563.15" x2="1194.00" y2="1567.15" stroke="#000" stroke-width="5.7" />
<line x1="1390.00" y1="1563.15" x2="1390.00" y2="1567.15" stroke="#000" stroke-width="5.7" />
<line x1="1586.00" y1="1563.15" x2="1586.00" y2="1567.15" stroke="#000" stroke-width="5.7" />
<line x1="1782.00" y1="1563.15" x2="1782.00" y2="1567.15" stroke="#000" stroke-width="5.7" />
<line x1="1879.30" y1="1560.30" x2="1879.30" y2="1572.65" stroke="#000" stroke-width="5.7" />
<line x1="1096.00" y1="917.15" x2="1096.00" y2="927.15" stroke="#000" stroke-width="5.7" />
<line x1="1292.00" y1="917.15" x2="1292.00" y2="927.15" stroke="#000" stroke-width="5.7" />
<line x1="1488.00" y1="917.15" x2="1488.00" y2="927.15" stroke="#000" stroke-width="5.7" />
<line x1="1684.00" y1="917.15" x2="1684.00" y2="927.15" stroke="#000" stroke-width="5.7" />
<line x1="1194.00" y1="917.15" x2="1194.00" y2="921.15" stroke="#000" stroke-width="5.7" />
<line x1="1390.00" y1="917.15" x2="1390.00" y2="921.15" stroke="#000" stroke-width="5.7" />
<line x1="1586.00" y1="917.15" x2="1586.00" y2="921.15" stroke="#000" stroke-width="5.7" />
<line x1="1782.00" y1="917.15" x2="1782.00" y2="921.15" stroke="#000" stroke-width="5.7" />
<line x1="1077.65" y1="1543.75" x2="1088.15" y2="1543.75" stroke="#000" stroke-width="5.7" />
<line x1="1077.65" y1="1386.75" x2="1088.15" y2="1386.75" stroke="#000" stroke-width="5.7" />
<line x1="1077.65" y1="1229.75" x2="1088.15" y2="1229.75" stroke="#000" stroke-width="5.7" />
<line x1="1077.65" y1="1072.75" x2="1088.15" y2="1072.75" stroke="#000" stroke-width="5.7" />
<line x1="1077.65" y1="1465.25" x2="1082.15" y2="1465.25" stroke="#000" stroke-width="5.7" />
<line x1="1077.65" y1="1308.25" x2="1082.15" y2="1308.25" stroke="#000" stroke-width="5.7" />
<line x1="1077.65" y1="1151.25" x2="1082.15" y2="1151.25" stroke="#000" stroke-width="5.7" />
<line x1="1077.65" y1="994.25" x2="1082.15" y2="994.25" stroke="#000" stroke-width="5.7" />
<line x1="1876.45" y1="1543.75" x2="1865.95" y2="1543.75" stroke="#000" stroke-width="5.7" />
<line x1="1876.45" y1="1386.75" x2="1865.95" y2="1386.75" stroke="#000" stroke-width="5.7" />
<line x1="1876.45" y1="1229.75" x2="1865.95" y2="1229.75" stroke="#000" stroke-width="5.7" />
<line x1="1876.45" y1="1072.75" x2="1865.95" y2="1072.75" stroke="#000" stroke-width="5.7" />
<line x1="1876.45" y1="1465.25" x2="1871.95" y2="1465.25" stroke="#000" stroke-width="5.7" />
<line x1="1876.45" y1="1308.25" x2="1871.95" y2="1308.25" stroke="#000" stroke-width="5.7" />
<line x1="1876.45" y1="1151.25" x2="1871.95" y2="1151.25" stroke="#000" stroke-width="5.7" />
<line x1="1876.45" y1="994.25" x2="1871.95" y2="994.25" stroke="#000" stroke-width="5.7" />
<rect x="1074.80" y="914.30" width="804.50" height="646.00" fill="none" stroke="#000" stroke-width="5.7"/>
<text transform="translate(1061.00 1557.15) scale(0.965 1)" font-size="44" text-anchor="end" font-weight="normal" fill="#000" >0.0</text>
<text transform="translate(1061.00 1400.15) scale(0.965 1)" font-size="44" text-anchor="end" font-weight="normal" fill="#000" >0.5</text>
<text transform="translate(1061.00 1243.15) scale(0.965 1)" font-size="44" text-anchor="end" font-weight="normal" fill="#000" >1.0</text>
<text transform="translate(1061.00 1086.15) scale(0.965 1)" font-size="44" text-anchor="end" font-weight="normal" fill="#000" >1.5</text>
<text transform="translate(1061.00 929.15) scale(0.965 1)" font-size="44" text-anchor="end" font-weight="normal" fill="#000" >2.0</text>
<text transform="translate(1096.00 1614.50) scale(0.965 1)" font-size="44" text-anchor="middle" font-weight="normal" fill="#000" >0</text>
<text transform="translate(1292.00 1614.50) scale(0.965 1)" font-size="44" text-anchor="middle" font-weight="normal" fill="#000" >5</text>
<text transform="translate(1489.50 1614.50) scale(0.965 1)" font-size="44" text-anchor="middle" font-weight="normal" fill="#000" >10</text>
<text transform="translate(1685.00 1614.50) scale(0.965 1)" font-size="44" text-anchor="middle" font-weight="normal" fill="#000" >15</text>
<text transform="translate(1878.30 1614.50) scale(0.965 1)" font-size="44" text-anchor="middle" font-weight="normal" fill="#000" >20</text>
<line x1="1097.90" y1="1525.04" x2="1098.10" y2="1523.56" stroke="#000" stroke-width="4.2" stroke-linecap="round"/>
<line x1="1100.41" y1="1506.74" x2="1100.59" y2="1505.26" stroke="#000" stroke-width="4.2" stroke-linecap="round"/>
<line x1="1102.41" y1="1488.74" x2="1102.59" y2="1487.26" stroke="#000" stroke-width="4.2" stroke-linecap="round"/>
<line x1="1104.90" y1="1470.74" x2="1105.10" y2="1469.26" stroke="#000" stroke-width="4.2" stroke-linecap="round"/>
<line x1="1107.40" y1="1451.74" x2="1107.60" y2="1450.26" stroke="#000" stroke-width="4.2" stroke-linecap="round"/>
<line x1="1109.69" y1="1433.74" x2="1109.91" y2="1432.26" stroke="#000" stroke-width="4.2" stroke-linecap="round"/>
<line x1="1112.89" y1="1415.74" x2="1113.11" y2="1414.26" stroke="#000" stroke-width="4.2" stroke-linecap="round"/>
<line x1="1114.86" y1="1398.74" x2="1115.14" y2="1397.26" stroke="#000" stroke-width="4.2" stroke-linecap="round"/>
<line x1="1123.13" y1="1361.43" x2="1123.47" y2="1359.97" stroke="#000" stroke-width="4.2" stroke-linecap="round"/>
<line x1="1127.90" y1="1343.92" x2="1128.30" y2="1342.48" stroke="#000" stroke-width="4.2" stroke-linecap="round"/>
<line x1="1132.51" y1="1326.39" x2="1133.09" y2="1325.01" stroke="#000" stroke-width="4.2" stroke-linecap="round"/>
<line x1="1148.95" y1="1292.86" x2="1149.65" y2="1291.54" stroke="#000" stroke-width="4.2" stroke-linecap="round"/>
<line x1="1158.49" y1="1276.63" x2="1159.31" y2="1275.37" stroke="#000" stroke-width="4.2" stroke-linecap="round"/>
<line x1="1168.93" y1="1261.68" x2="1169.87" y2="1260.52" stroke="#000" stroke-width="4.2" stroke-linecap="round"/>
<line x1="1192.79" y1="1234.25" x2="1193.81" y2="1233.15" stroke="#000" stroke-width="4.2" stroke-linecap="round"/>
<line x1="1206.55" y1="1220.61" x2="1207.65" y2="1219.59" stroke="#000" stroke-width="4.2" stroke-linecap="round"/>
<line x1="1220.33" y1="1208.59" x2="1221.47" y2="1207.61" stroke="#000" stroke-width="4.2" stroke-linecap="round"/>
<line x1="1234.62" y1="1196.48" x2="1235.78" y2="1195.52" stroke="#000" stroke-width="4.2" stroke-linecap="round"/>
<line x1="1249.31" y1="1184.46" x2="1250.49" y2="1183.54" stroke="#000" stroke-width="4.2" stroke-linecap="round"/>
<line x1="1264.19" y1="1173.44" x2="1265.41" y2="1172.56" stroke="#000" stroke-width="4.2" stroke-linecap="round"/>
<line x1="1279.28" y1="1162.92" x2="1280.52" y2="1162.08" stroke="#000" stroke-width="4.2" stroke-linecap="round"/>
<line x1="1309.97" y1="1142.51" x2="1311.23" y2="1141.69" stroke="#000" stroke-width="4.2" stroke-linecap="round"/>
<line x1="1325.26" y1="1133.30" x2="1326.54" y2="1132.50" stroke="#000" stroke-width="4.2" stroke-linecap="round"/>
<line x1="1341.26" y1="1122.98" x2="1342.54" y2="1122.22" stroke="#000" stroke-width="4.2" stroke-linecap="round"/>
<line x1="1357.25" y1="1114.17" x2="1358.55" y2="1113.43" stroke="#000" stroke-width="4.2" stroke-linecap="round"/>
<line x1="1373.04" y1="1105.16" x2="1374.36" y2="1104.44" stroke="#000" stroke-width="4.2" stroke-linecap="round"/>
<line x1="1390.15" y1="1096.47" x2="1391.45" y2="1095.73" stroke="#000" stroke-width="4.2" stroke-linecap="round"/>
<line x1="1405.95" y1="1086.77" x2="1407.25" y2="1086.03" stroke="#000" stroke-width="4.2" stroke-linecap="round"/>
<line x1="1422.33" y1="1078.45" x2="1423.67" y2="1077.75" stroke="#000" stroke-width="4.2" stroke-linecap="round"/>
<line x1="1438.84" y1="1069.65" x2="1440.16" y2="1068.95" stroke="#000" stroke-width="4.2" stroke-linecap="round"/>
<line x1="1454.83" y1="1061.34" x2="1456.17" y2="1060.66" stroke="#000" stroke-width="4.2" stroke-linecap="round"/>
<line x1="1471.73" y1="1052.74" x2="1473.07" y2="1052.06" stroke="#000" stroke-width="4.2" stroke-linecap="round"/>
<rect x="1086.8" y="1534.5" width="18.4" height="18.4" fill="#000"/>
<rect x="1106.4" y="1376.0" width="18.4" height="18.4" fill="#000"/>
<rect x="1126.0" y="1306.0" width="18.4" height="18.4" fill="#000"/>
<rect x="1165.2" y="1237.2" width="18.4" height="18.4" fill="#000"/>
<rect x="1282.0" y="1137.7" width="18.4" height="18.4" fill="#000"/>
<rect x="1478.8" y="1035.9" width="18.4" height="18.4" fill="#000"/>
<line x1="1141.46" y1="1483.17" x2="1142.14" y2="1481.83" stroke="#e60000" stroke-width="4.2" stroke-linecap="round"/>
<line x1="1148.93" y1="1468.15" x2="1149.67" y2="1466.85" stroke="#e60000" stroke-width="4.2" stroke-linecap="round"/>
<line x1="1158.88" y1="1452.42" x2="1159.72" y2="1451.18" stroke="#e60000" stroke-width="4.2" stroke-linecap="round"/>
<line x1="1169.52" y1="1437.38" x2="1170.48" y2="1436.22" stroke="#e60000" stroke-width="4.2" stroke-linecap="round"/>
<line x1="1193.79" y1="1410.55" x2="1194.81" y2="1409.45" stroke="#e60000" stroke-width="4.2" stroke-linecap="round"/>
<line x1="1206.95" y1="1397.31" x2="1208.05" y2="1396.29" stroke="#e60000" stroke-width="4.2" stroke-linecap="round"/>
<line x1="1221.02" y1="1384.78" x2="1222.18" y2="1383.82" stroke="#e60000" stroke-width="4.2" stroke-linecap="round"/>
<line x1="1236.10" y1="1372.86" x2="1237.30" y2="1371.94" stroke="#e60000" stroke-width="4.2" stroke-linecap="round"/>
<line x1="1251.09" y1="1361.73" x2="1252.31" y2="1360.87" stroke="#e60000" stroke-width="4.2" stroke-linecap="round"/>
<line x1="1266.67" y1="1351.40" x2="1267.93" y2="1350.60" stroke="#e60000" stroke-width="4.2" stroke-linecap="round"/>
<line x1="1282.85" y1="1341.37" x2="1284.15" y2="1340.63" stroke="#e60000" stroke-width="4.2" stroke-linecap="round"/>
<line x1="1298.93" y1="1333.03" x2="1300.27" y2="1332.37" stroke="#e60000" stroke-width="4.2" stroke-linecap="round"/>
<line x1="1316.01" y1="1325.00" x2="1317.39" y2="1324.40" stroke="#e60000" stroke-width="4.2" stroke-linecap="round"/>
<line x1="1333.10" y1="1317.88" x2="1334.50" y2="1317.32" stroke="#e60000" stroke-width="4.2" stroke-linecap="round"/>
<line x1="1350.50" y1="1311.26" x2="1351.90" y2="1310.74" stroke="#e60000" stroke-width="4.2" stroke-linecap="round"/>
<line x1="1368.09" y1="1305.04" x2="1369.51" y2="1304.56" stroke="#e60000" stroke-width="4.2" stroke-linecap="round"/>
<line x1="1385.88" y1="1299.22" x2="1387.32" y2="1298.78" stroke="#e60000" stroke-width="4.2" stroke-linecap="round"/>
<line x1="1403.88" y1="1293.91" x2="1405.32" y2="1293.49" stroke="#e60000" stroke-width="4.2" stroke-linecap="round"/>
<line x1="1421.48" y1="1288.72" x2="1422.92" y2="1288.28" stroke="#e60000" stroke-width="4.2" stroke-linecap="round"/>
<line x1="1438.79" y1="1283.23" x2="1440.21" y2="1282.77" stroke="#e60000" stroke-width="4.2" stroke-linecap="round"/>
<circle cx="1096.0" cy="1543.8" r="10.8" fill="#e60000"/>
<circle cx="1115.6" cy="1521.8" r="10.8" fill="#e60000"/>
<circle cx="1135.2" cy="1492.6" r="10.8" fill="#e60000"/>
<circle cx="1174.4" cy="1422.5" r="10.8" fill="#e60000"/>
<circle cx="1287.3" cy="1326.1" r="10.8" fill="#e60000"/>
<circle cx="1456.6" cy="1279.0" r="10.8" fill="#e60000"/>
<line x1="1093.05" y1="948.90" x2="1095.35" y2="948.90" stroke="#000" stroke-width="4.2" stroke-linecap="round"/>
<line x1="1111.45" y1="948.90" x2="1113.75" y2="948.90" stroke="#000" stroke-width="4.2" stroke-linecap="round"/>
<line x1="1148.15" y1="948.90" x2="1150.45" y2="948.90" stroke="#000" stroke-width="4.2" stroke-linecap="round"/>
<line x1="1165.65" y1="948.90" x2="1167.95" y2="948.90" stroke="#000" stroke-width="4.2" stroke-linecap="round"/>
<rect x="1123.7" y="939.2" width="19.4" height="19.7" fill="#000"/>
<line x1="1093.05" y1="998.70" x2="1095.35" y2="998.70" stroke="#e60000" stroke-width="4.2" stroke-linecap="round"/>
<line x1="1111.45" y1="998.70" x2="1113.75" y2="998.70" stroke="#e60000" stroke-width="4.2" stroke-linecap="round"/>
<line x1="1148.15" y1="998.70" x2="1150.45" y2="998.70" stroke="#e60000" stroke-width="4.2" stroke-linecap="round"/>
<line x1="1165.65" y1="998.70" x2="1167.95" y2="998.70" stroke="#e60000" stroke-width="4.2" stroke-linecap="round"/>
<circle cx="1133.2" cy="999" r="11" fill="#e60000"/>
<text x="1184.80" y="960.90" font-size="36.5" text-anchor="start" font-weight="normal" fill="#000" >Eu-Cdots</text>
<text x="1185.10" y="1010.50" font-size="36.5" text-anchor="start" font-weight="normal" fill="#000" >Cdots + Eu<tspan font-size="22.5" dy="-11.3" dx="2.5">3+</tspan></text>
<text x="1149.20" y="1072.00" font-size="41" text-anchor="start" font-weight="normal" fill="#000" font-family='"Liberation Serif", "DejaVu Serif", serif'>λ</text>
<text x="1171.00" y="1081.60" font-size="24" text-anchor="start" font-weight="normal" fill="#000" >em</text>
<text x="1218.00" y="1072.00" font-size="40" text-anchor="start" font-weight="normal" fill="#000" stroke="#000" stroke-width="0.8">= 450 nm</text>
<text transform="translate(1131.70 1150.80) scale(0.95 1)" font-size="53">Ag</text>
<text x="1192.50" y="1134.60" font-size="34" text-anchor="start" font-weight="normal" fill="#000" >+</text>
<text x="1781.50" y="992.00" font-size="58" text-anchor="start" font-weight="normal" fill="#000" >d)</text>
<text x="977.00" y="1239.00" font-size="42" text-anchor="middle" font-weight="normal" fill="#000" transform="rotate(-90 977.00 1239.00)" >I<tspan font-size="28" dy="9">0</tspan><tspan dy="-9">/I-1</tspan></text>
<text x="1338.50" y="1682.90" font-size="43.0" text-anchor="start" font-weight="normal" fill="#000" >[Ag<tspan font-size="28.5" dy="-18.3">+</tspan><tspan dy="18.3">]/10</tspan><tspan font-size="28.5" dy="-18.4">-5</tspan><tspan dy="18.4"> (M)</tspan></text>
<line x1="1543.30" y1="1024.50" x2="1543.30" y2="1031.00" stroke="#000" stroke-width="2.6" />
<line x1="1543.30" y1="1465.80" x2="1543.30" y2="1459.30" stroke="#000" stroke-width="2.6" />
<line x1="1614.42" y1="1024.50" x2="1614.42" y2="1031.00" stroke="#000" stroke-width="2.6" />
<line x1="1614.42" y1="1465.80" x2="1614.42" y2="1459.30" stroke="#000" stroke-width="2.6" />
<line x1="1685.55" y1="1024.50" x2="1685.55" y2="1031.00" stroke="#000" stroke-width="2.6" />
<line x1="1685.55" y1="1465.80" x2="1685.55" y2="1459.30" stroke="#000" stroke-width="2.6" />
<line x1="1756.67" y1="1024.50" x2="1756.67" y2="1031.00" stroke="#000" stroke-width="2.6" />
<line x1="1756.67" y1="1465.80" x2="1756.67" y2="1459.30" stroke="#000" stroke-width="2.6" />
<line x1="1827.80" y1="1024.50" x2="1827.80" y2="1031.00" stroke="#000" stroke-width="2.6" />
<line x1="1827.80" y1="1465.80" x2="1827.80" y2="1459.30" stroke="#000" stroke-width="2.6" />
<line x1="1578.86" y1="1024.50" x2="1578.86" y2="1028.50" stroke="#000" stroke-width="2.2" />
<line x1="1578.86" y1="1465.80" x2="1578.86" y2="1461.80" stroke="#000" stroke-width="2.2" />
<line x1="1649.99" y1="1024.50" x2="1649.99" y2="1028.50" stroke="#000" stroke-width="2.2" />
<line x1="1649.99" y1="1465.80" x2="1649.99" y2="1461.80" stroke="#000" stroke-width="2.2" />
<line x1="1721.11" y1="1024.50" x2="1721.11" y2="1028.50" stroke="#000" stroke-width="2.2" />
<line x1="1721.11" y1="1465.80" x2="1721.11" y2="1461.80" stroke="#000" stroke-width="2.2" />
<line x1="1792.24" y1="1024.50" x2="1792.24" y2="1028.50" stroke="#000" stroke-width="2.2" />
<line x1="1792.24" y1="1465.80" x2="1792.24" y2="1461.80" stroke="#000" stroke-width="2.2" />
<line x1="1537.00" y1="1336.55" x2="1543.50" y2="1336.55" stroke="#000" stroke-width="2.4" />
<line x1="1537.00" y1="1206.30" x2="1543.50" y2="1206.30" stroke="#000" stroke-width="2.4" />
<line x1="1537.00" y1="1076.05" x2="1543.50" y2="1076.05" stroke="#000" stroke-width="2.4" />
<line x1="1537.00" y1="1401.67" x2="1541.00" y2="1401.67" stroke="#000" stroke-width="2" />
<line x1="1537.00" y1="1271.42" x2="1541.00" y2="1271.42" stroke="#000" stroke-width="2" />
<line x1="1537.00" y1="1141.17" x2="1541.00" y2="1141.17" stroke="#000" stroke-width="2" />
<rect x="1537.00" y="1024.50" width="326.50" height="441.30" fill="none" stroke="#000" stroke-width="3.4"/>
<line x1="1558.00" y1="1424.60" x2="1828.30" y2="1388.80" stroke="#000" stroke-width="3.2" />
<rect x="1551.5" y="1417.5" width="12.6" height="12.6" fill="#000"/>
<rect x="1565.7" y="1414.2" width="12.6" height="12.6" fill="#000"/>
<rect x="1608.7" y="1406.7" width="12.6" height="12.6" fill="#000"/>
<rect x="1679.5" y="1398.5" width="12.6" height="12.6" fill="#000"/>
<rect x="1822.0" y="1382.5" width="12.6" height="12.6" fill="#000"/>
<circle cx="1559.0" cy="1409.3" r="7" fill="#e60000"/>
<circle cx="1572.8" cy="1402.3" r="7" fill="#e60000"/>
<circle cx="1615.0" cy="1373.5" r="7" fill="#e60000"/>
<circle cx="1685.8" cy="1281.8" r="7" fill="#e60000"/>
<circle cx="1828.3" cy="1077.0" r="7" fill="#e60000"/>
<line x1="1558.30" y1="1426.80" x2="1828.00" y2="1087.00" stroke="#f00000" stroke-width="3.2" />
<text x="1531.30" y="1474.60" font-size="27.5" text-anchor="end" font-weight="normal" fill="#000" >0</text>
<text x="1531.30" y="1345.85" font-size="27.5" text-anchor="end" font-weight="normal" fill="#000" >5</text>
<text x="1531.30" y="1215.60" font-size="27.5" text-anchor="end" font-weight="normal" fill="#000" >10</text>
<text x="1531.30" y="1085.35" font-size="27.5" text-anchor="end" font-weight="normal" fill="#000" >15</text>
<text x="1543.80" y="1493.70" font-size="27.5" text-anchor="middle" font-weight="normal" fill="#000" >0.0</text>
<text x="1614.92" y="1493.70" font-size="27.5" text-anchor="middle" font-weight="normal" fill="#000" >0.5</text>
<text x="1686.05" y="1493.70" font-size="27.5" text-anchor="middle" font-weight="normal" fill="#000" >1.0</text>
<text x="1757.17" y="1493.70" font-size="27.5" text-anchor="middle" font-weight="normal" fill="#000" >1.5</text>
<text x="1828.30" y="1493.70" font-size="27.5" text-anchor="middle" font-weight="normal" fill="#000" >2.0</text>
<text x="1603.00" y="1537.10" font-size="27" text-anchor="start" font-weight="normal" fill="#000" >10<tspan font-size="17" dy="-11.5">-5</tspan><tspan dy="11.5">/</tspan><tspan font-weight="bold">[</tspan>Ag<tspan font-size="17" dy="-11.5">+</tspan><tspan dy="11.5" font-weight="bold">]</tspan> <tspan font-weight="bold">(</tspan>M<tspan font-size="17" dy="-11.5">-1</tspan><tspan dy="11.5" font-weight="bold">)</tspan></text>
<text x="1486.90" y="1174.20" font-size="26.5" text-anchor="middle" font-weight="normal" fill="#000" transform="rotate(-90 1486.90 1174.20)" >I<tspan font-size="17" dy="5.5">o</tspan><tspan dy="-5.5">/</tspan><tspan font-weight="bold">(</tspan>I<tspan font-size="17" dy="5.5">o</tspan><tspan dy="-5.5">-I</tspan><tspan font-weight="bold">)</tspan></text>
</g>
</svg>
</body></html>
